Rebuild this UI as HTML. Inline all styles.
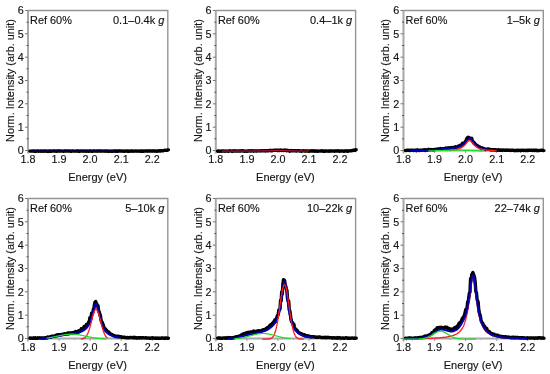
<!DOCTYPE html><html><head><meta charset="utf-8"><style>html,body{margin:0;padding:0;background:#fff;}svg{display:block;}text{font-family:"Liberation Sans", sans-serif;stroke:#1a1a1a;stroke-width:0.15px;}</style></head><body>
<svg width="550" height="374" viewBox="0 0 550 374" style="will-change:transform">
<g><path d="M28.0 10.5 H167.8 V150.5" fill="none" stroke="#959595" stroke-width="1.4"/><path d="M28.0 10.5 V150.5 H167.8" fill="none" stroke="#a8a8a8" stroke-width="2"/><path d="M28.0 150.5 V153.5" fill="none" stroke="#b8b8b8" stroke-width="2"/><line x1="25.0" y1="150.5" x2="28.0" y2="150.5" stroke="#777" stroke-width="1"/><text x="23.7" y="154.4" font-size="10.8" text-anchor="end" fill="#111">0</text><line x1="25.0" y1="127.2" x2="28.0" y2="127.2" stroke="#777" stroke-width="1"/><text x="23.7" y="131.1" font-size="10.8" text-anchor="end" fill="#111">1</text><line x1="25.0" y1="103.8" x2="28.0" y2="103.8" stroke="#777" stroke-width="1"/><text x="23.7" y="107.7" font-size="10.8" text-anchor="end" fill="#111">2</text><line x1="25.0" y1="80.5" x2="28.0" y2="80.5" stroke="#777" stroke-width="1"/><text x="23.7" y="84.4" font-size="10.8" text-anchor="end" fill="#111">3</text><line x1="25.0" y1="57.2" x2="28.0" y2="57.2" stroke="#777" stroke-width="1"/><text x="23.7" y="61.1" font-size="10.8" text-anchor="end" fill="#111">4</text><line x1="25.0" y1="33.8" x2="28.0" y2="33.8" stroke="#777" stroke-width="1"/><text x="23.7" y="37.7" font-size="10.8" text-anchor="end" fill="#111">5</text><line x1="25.0" y1="10.5" x2="28.0" y2="10.5" stroke="#777" stroke-width="1"/><text x="23.7" y="14.4" font-size="10.8" text-anchor="end" fill="#111">6</text><line x1="26.5" y1="138.8" x2="28.5" y2="138.8" stroke="#555" stroke-width="1"/><line x1="26.5" y1="115.5" x2="28.5" y2="115.5" stroke="#555" stroke-width="1"/><line x1="26.5" y1="92.2" x2="28.5" y2="92.2" stroke="#555" stroke-width="1"/><line x1="26.5" y1="68.8" x2="28.5" y2="68.8" stroke="#555" stroke-width="1"/><line x1="26.5" y1="45.5" x2="28.5" y2="45.5" stroke="#555" stroke-width="1"/><line x1="26.5" y1="22.2" x2="28.5" y2="22.2" stroke="#555" stroke-width="1"/><line x1="28.0" y1="150.5" x2="28.0" y2="153.0" stroke="#999" stroke-width="1"/><text x="28.0" y="163.4" font-size="10.8" text-anchor="middle" fill="#111">1.8</text><line x1="59.1" y1="150.5" x2="59.1" y2="153.0" stroke="#999" stroke-width="1"/><text x="59.1" y="163.4" font-size="10.8" text-anchor="middle" fill="#111">1.9</text><line x1="90.1" y1="150.5" x2="90.1" y2="153.0" stroke="#999" stroke-width="1"/><text x="90.1" y="163.4" font-size="10.8" text-anchor="middle" fill="#111">2.0</text><line x1="121.2" y1="150.5" x2="121.2" y2="153.0" stroke="#999" stroke-width="1"/><text x="121.2" y="163.4" font-size="10.8" text-anchor="middle" fill="#111">2.1</text><line x1="152.3" y1="150.5" x2="152.3" y2="153.0" stroke="#999" stroke-width="1"/><text x="152.3" y="163.4" font-size="10.8" text-anchor="middle" fill="#111">2.2</text><line x1="43.5" y1="150.5" x2="43.5" y2="152.0" stroke="#aaa" stroke-width="1"/><line x1="74.6" y1="150.5" x2="74.6" y2="152.0" stroke="#aaa" stroke-width="1"/><line x1="105.7" y1="150.5" x2="105.7" y2="152.0" stroke="#aaa" stroke-width="1"/><line x1="136.7" y1="150.5" x2="136.7" y2="152.0" stroke="#aaa" stroke-width="1"/><text x="30.1" y="23.8" font-size="10.9" fill="#111">Ref 60%</text><text x="164.4" y="23.6" font-size="11" text-anchor="end" fill="#111">0.1–0.4k <tspan font-style="italic">g</tspan></text><text x="97.6" y="181.0" font-size="11" text-anchor="middle" fill="#111">Energy (eV)</text><text x="13.8" y="80.5" font-size="10.9" text-anchor="middle" fill="#111" transform="rotate(-90 13.8 80.5)">Norm. Intensity (arb. unit)</text><polyline points="29.9,151.1 30.4,151.1 31.0,151.1 31.6,151.1 32.2,151.1 32.8,151.1 33.3,151.0 33.9,151.1 34.5,151.3 35.1,151.1 35.6,151.1 36.2,151.2 36.8,151.1 37.4,150.9 37.9,151.0 38.5,151.2 39.1,151.1 39.7,151.1 40.3,151.2 40.8,151.0 41.4,151.1 42.0,151.2 42.6,151.0 43.1,151.1 43.7,151.2 44.3,151.1 44.9,151.0 45.5,151.0 46.0,151.1 46.6,151.2 47.2,151.2 47.8,151.2 48.3,151.1 48.9,151.3 49.5,151.1 50.1,151.0 50.6,151.3 51.2,151.2 51.8,151.0 52.4,151.1 53.0,151.1 53.5,151.0 54.1,151.0 54.7,151.0 55.3,151.1 55.8,151.2 56.4,151.3 57.0,151.0 57.6,150.9 58.2,151.1 58.7,151.0 59.3,151.0 59.9,151.1 60.5,151.1 61.0,151.0 61.6,151.1 62.2,151.1 62.8,151.1 63.3,151.2 63.9,151.2 64.5,151.0 65.1,151.0 65.7,151.1 66.2,151.0 66.8,151.1 67.4,151.1 68.0,151.0 68.5,151.1 69.1,151.1 69.7,151.0 70.3,151.1 70.9,151.3 71.4,151.1 72.0,151.1 72.6,151.0 73.2,151.1 73.7,151.1 74.3,151.1 74.9,151.1 75.5,151.1 76.0,151.2 76.6,151.0 77.2,151.0 77.8,151.1 78.4,151.0 78.9,151.4 79.5,151.2 80.1,151.2 80.7,151.0 81.2,151.1 81.8,151.1 82.4,151.0 83.0,151.1 83.6,151.2 84.1,151.1 84.7,151.0 85.3,151.0 85.9,151.2 86.4,151.2 87.0,151.2 87.6,151.0 88.2,151.2 88.8,151.2 89.3,151.0 89.9,151.0 90.5,151.1 91.1,151.0 91.6,151.2 92.2,151.1 92.8,151.2 93.4,151.0 93.9,151.1 94.5,151.0 95.1,151.1 95.7,151.1 96.3,151.1 96.8,151.0 97.4,151.2 98.0,151.0 98.6,151.0 99.1,151.0 99.7,150.9 100.3,151.0 100.9,151.2 101.5,151.0 102.0,151.1 102.6,151.1 103.2,151.1 103.8,151.1 104.3,151.0 104.9,151.2 105.5,151.0 106.1,151.2 106.6,151.0 107.2,151.0 107.8,151.2 108.4,151.2 109.0,151.2 109.5,151.2 110.1,151.1 110.7,151.1 111.3,151.1 111.8,151.3 112.4,151.1 113.0,151.2 113.6,151.1 114.2,151.0 114.7,151.1 115.3,151.0 115.9,151.3 116.5,151.0 117.0,151.1 117.6,151.3 118.2,150.9 118.8,151.0 119.3,151.1 119.9,151.0 120.5,151.1 121.1,151.0 121.7,151.1 122.2,151.1 122.8,151.1 123.4,151.2 124.0,151.0 124.5,151.3 125.1,151.1 125.7,151.1 126.3,151.1 126.9,151.0 127.4,151.2 128.0,150.9 128.6,151.2 129.2,151.1 129.7,151.2 130.3,151.0 130.9,151.2 131.5,151.0 132.1,151.0 132.6,151.1 133.2,151.2 133.8,151.1 134.4,151.1 134.9,151.1 135.5,151.1 136.1,151.0 136.7,151.2 137.2,151.1 137.8,151.1 138.4,151.1 139.0,151.2 139.6,151.0 140.1,151.1 140.7,151.2 141.3,151.1 141.9,151.0 142.4,151.3 143.0,151.0 143.6,151.2 144.2,151.1 144.8,151.1 145.3,151.0 145.9,151.0 146.5,151.0 147.1,151.2 147.6,151.0 148.2,151.0 148.8,151.0 149.4,150.9 149.9,151.1 150.5,150.9 151.1,151.0 151.7,151.1 152.3,151.1 152.8,151.0 153.4,151.1 154.0,151.0 154.6,151.1 155.1,151.0 155.7,151.1 156.3,151.2 156.9,151.3 157.5,151.0 158.0,151.0 158.6,151.1 159.2,150.8 159.8,151.0 160.3,151.1 160.9,150.7 161.5,150.8 162.1,150.9 162.6,150.8 163.2,150.8 163.8,150.5 164.4,150.3 165.0,150.1 165.5,150.4 166.1,150.4 166.7,150.1 167.3,150.3 167.8,150.0 168.4,149.9" fill="none" stroke="#000" stroke-width="3.4" stroke-linecap="round" stroke-linejoin="round"/><polyline points="31.1,151.1 31.6,151.1 32.0,151.1 32.5,151.1 33.0,151.1 33.4,151.1 33.9,151.1 34.4,151.1 34.8,151.1 35.3,151.1 35.8,151.1 36.2,151.1 36.7,151.1 37.2,151.1 37.6,151.1 38.1,151.1 38.6,151.1 39.0,151.1 39.5,151.1 40.0,151.1 40.4,151.1 40.9,151.1 41.4,151.1 41.8,151.1 42.3,151.1 42.8,151.1 43.2,151.1 43.7,151.1 44.2,151.1 44.6,151.1 45.1,151.1 45.6,151.1 46.0,151.1 46.5,151.1 47.0,151.1 47.4,151.1 47.9,151.1 48.3,151.1 48.8,151.1 49.3,151.1 49.7,151.1 50.2,151.1 50.7,151.1 51.1,151.1 51.6,151.1 52.1,151.1 52.5,151.1 53.0,151.1 53.5,151.1 53.9,151.1 54.4,151.1 54.9,151.1 55.3,151.1 55.8,151.1 56.3,151.1 56.7,151.1 57.2,151.1 57.7,151.1 58.1,151.1 58.6,151.1 59.1,151.1 59.5,151.1 60.0,151.1 60.5,151.1 60.9,151.1 61.4,151.1 61.9,151.1 62.3,151.1 62.8,151.1 63.3,151.1 63.7,151.1 64.2,151.1 64.7,151.1 65.1,151.1 65.6,151.1 66.1,151.1 66.5,151.1 67.0,151.1 67.5,151.1 67.9,151.1 68.4,151.1 68.9,151.1 69.3,151.1 69.8,151.1 70.3,151.1 70.7,151.1 71.2,151.1 71.6,151.1 72.1,151.1 72.6,151.1 73.0,151.1 73.5,151.1 74.0,151.1 74.4,151.1 74.9,151.1 75.4,151.1 75.8,151.1 76.3,151.1 76.8,151.1 77.2,151.1 77.7,151.1 78.2,151.1 78.6,151.1 79.1,151.1 79.6,151.1 80.0,151.1 80.5,151.1 81.0,151.1 81.4,151.1 81.9,151.1 82.4,151.1 82.8,151.1 83.3,151.1 83.8,151.1 84.2,151.1 84.7,151.1 85.2,151.1 85.6,151.1 86.1,151.1 86.6,151.1 87.0,151.1 87.5,151.1 88.0,151.1 88.4,151.1 88.9,151.1 89.4,151.1 89.8,151.1 90.3,151.1 90.8,151.1 91.2,151.1 91.7,151.1 92.2,151.1 92.6,151.1 93.1,151.1 93.6,151.1 94.0,151.1 94.5,151.1 94.9,151.1 95.4,151.1 95.9,151.1 96.3,151.1 96.8,151.1 97.3,151.1 97.7,151.1 98.2,151.1 98.7,151.1 99.1,151.1 99.6,151.1 100.1,151.1 100.5,151.1 101.0,151.1 101.5,151.1 101.9,151.1 102.4,151.1 102.9,151.1 103.3,151.1 103.8,151.1 104.3,151.1 104.7,151.1 105.2,151.1 105.7,151.1 106.1,151.1 106.6,151.1 107.1,151.1 107.5,151.1 108.0,151.1 108.5,151.1 108.9,151.1 109.4,151.1 109.9,151.1 110.3,151.1 110.8,151.1 111.3,151.1 111.7,151.1 112.2,151.1 112.7,151.1 113.1,151.1 113.6,151.1 114.1,151.1 114.5,151.1 115.0,151.1" fill="none" stroke="#000090" stroke-width="1.0" stroke-linejoin="round"/></g>
<g><path d="M215.8 10.5 H355.6 V150.5" fill="none" stroke="#959595" stroke-width="1.4"/><path d="M215.8 10.5 V150.5 H355.6" fill="none" stroke="#a8a8a8" stroke-width="2"/><path d="M215.8 150.5 V153.5" fill="none" stroke="#b8b8b8" stroke-width="2"/><line x1="212.8" y1="150.5" x2="215.8" y2="150.5" stroke="#777" stroke-width="1"/><text x="211.5" y="154.4" font-size="10.8" text-anchor="end" fill="#111">0</text><line x1="212.8" y1="127.2" x2="215.8" y2="127.2" stroke="#777" stroke-width="1"/><text x="211.5" y="131.1" font-size="10.8" text-anchor="end" fill="#111">1</text><line x1="212.8" y1="103.8" x2="215.8" y2="103.8" stroke="#777" stroke-width="1"/><text x="211.5" y="107.7" font-size="10.8" text-anchor="end" fill="#111">2</text><line x1="212.8" y1="80.5" x2="215.8" y2="80.5" stroke="#777" stroke-width="1"/><text x="211.5" y="84.4" font-size="10.8" text-anchor="end" fill="#111">3</text><line x1="212.8" y1="57.2" x2="215.8" y2="57.2" stroke="#777" stroke-width="1"/><text x="211.5" y="61.1" font-size="10.8" text-anchor="end" fill="#111">4</text><line x1="212.8" y1="33.8" x2="215.8" y2="33.8" stroke="#777" stroke-width="1"/><text x="211.5" y="37.7" font-size="10.8" text-anchor="end" fill="#111">5</text><line x1="212.8" y1="10.5" x2="215.8" y2="10.5" stroke="#777" stroke-width="1"/><text x="211.5" y="14.4" font-size="10.8" text-anchor="end" fill="#111">6</text><line x1="214.3" y1="138.8" x2="216.3" y2="138.8" stroke="#555" stroke-width="1"/><line x1="214.3" y1="115.5" x2="216.3" y2="115.5" stroke="#555" stroke-width="1"/><line x1="214.3" y1="92.2" x2="216.3" y2="92.2" stroke="#555" stroke-width="1"/><line x1="214.3" y1="68.8" x2="216.3" y2="68.8" stroke="#555" stroke-width="1"/><line x1="214.3" y1="45.5" x2="216.3" y2="45.5" stroke="#555" stroke-width="1"/><line x1="214.3" y1="22.2" x2="216.3" y2="22.2" stroke="#555" stroke-width="1"/><line x1="215.8" y1="150.5" x2="215.8" y2="153.0" stroke="#999" stroke-width="1"/><text x="215.8" y="163.4" font-size="10.8" text-anchor="middle" fill="#111">1.8</text><line x1="246.9" y1="150.5" x2="246.9" y2="153.0" stroke="#999" stroke-width="1"/><text x="246.9" y="163.4" font-size="10.8" text-anchor="middle" fill="#111">1.9</text><line x1="277.9" y1="150.5" x2="277.9" y2="153.0" stroke="#999" stroke-width="1"/><text x="277.9" y="163.4" font-size="10.8" text-anchor="middle" fill="#111">2.0</text><line x1="309.0" y1="150.5" x2="309.0" y2="153.0" stroke="#999" stroke-width="1"/><text x="309.0" y="163.4" font-size="10.8" text-anchor="middle" fill="#111">2.1</text><line x1="340.1" y1="150.5" x2="340.1" y2="153.0" stroke="#999" stroke-width="1"/><text x="340.1" y="163.4" font-size="10.8" text-anchor="middle" fill="#111">2.2</text><line x1="231.3" y1="150.5" x2="231.3" y2="152.0" stroke="#aaa" stroke-width="1"/><line x1="262.4" y1="150.5" x2="262.4" y2="152.0" stroke="#aaa" stroke-width="1"/><line x1="293.5" y1="150.5" x2="293.5" y2="152.0" stroke="#aaa" stroke-width="1"/><line x1="324.5" y1="150.5" x2="324.5" y2="152.0" stroke="#aaa" stroke-width="1"/><text x="217.9" y="23.8" font-size="10.9" fill="#111">Ref 60%</text><text x="352.2" y="23.6" font-size="11" text-anchor="end" fill="#111">0.4–1k <tspan font-style="italic">g</tspan></text><text x="285.4" y="181.0" font-size="11" text-anchor="middle" fill="#111">Energy (eV)</text><text x="201.6" y="80.5" font-size="10.9" text-anchor="middle" fill="#111" transform="rotate(-90 201.6 80.5)">Norm. Intensity (arb. unit)</text><polyline points="217.7,151.2 218.2,151.0 218.8,151.1 219.4,151.4 220.0,151.1 220.6,151.1 221.1,151.2 221.7,151.1 222.3,151.0 222.9,151.2 223.4,151.1 224.0,151.0 224.6,151.2 225.2,151.2 225.7,151.1 226.3,151.1 226.9,151.1 227.5,151.1 228.1,151.1 228.6,151.3 229.2,151.0 229.8,150.8 230.4,150.9 230.9,151.0 231.5,151.1 232.1,151.2 232.7,151.2 233.3,150.8 233.8,151.1 234.4,151.1 235.0,151.0 235.6,151.0 236.1,150.9 236.7,151.1 237.3,151.1 237.9,151.1 238.4,151.1 239.0,151.0 239.6,151.1 240.2,151.0 240.8,151.0 241.3,150.9 241.9,150.8 242.5,151.0 243.1,151.0 243.6,150.8 244.2,151.2 244.8,151.2 245.4,151.1 246.0,151.1 246.5,151.2 247.1,151.2 247.7,151.0 248.3,151.0 248.8,151.0 249.4,150.8 250.0,151.0 250.6,151.1 251.1,151.0 251.7,150.9 252.3,150.7 252.9,151.0 253.5,151.2 254.0,151.0 254.6,150.9 255.2,150.9 255.8,150.9 256.3,151.1 256.9,151.1 257.5,150.9 258.1,150.9 258.7,150.9 259.2,150.9 259.8,150.9 260.4,151.0 261.0,150.8 261.5,150.8 262.1,150.9 262.7,150.9 263.3,150.8 263.8,150.9 264.4,150.8 265.0,150.6 265.6,151.0 266.2,150.8 266.7,150.7 267.3,150.8 267.9,150.8 268.5,150.9 269.0,150.6 269.6,150.5 270.2,150.3 270.8,150.7 271.4,150.4 271.9,150.7 272.5,150.4 273.1,150.5 273.7,150.3 274.2,150.4 274.8,150.2 275.4,150.3 276.0,150.4 276.6,150.1 277.1,150.2 277.7,150.1 278.3,150.2 278.9,150.1 279.4,150.5 280.0,150.1 280.6,150.0 281.2,150.3 281.7,150.5 282.3,150.3 282.9,150.4 283.5,150.5 284.1,150.1 284.6,150.0 285.2,150.4 285.8,150.3 286.4,150.8 286.9,150.5 287.5,150.2 288.1,150.6 288.7,150.6 289.3,150.9 289.8,151.2 290.4,150.8 291.0,150.5 291.6,150.8 292.1,150.9 292.7,150.7 293.3,150.8 293.9,150.7 294.4,150.9 295.0,150.9 295.6,150.7 296.2,151.0 296.8,150.9 297.3,150.7 297.9,150.8 298.5,150.9 299.1,150.8 299.6,151.0 300.2,150.9 300.8,151.0 301.4,151.2 302.0,150.9 302.5,151.0 303.1,150.8 303.7,150.9 304.3,151.0 304.8,151.1 305.4,151.0 306.0,150.9 306.6,151.1 307.1,150.9 307.7,151.0 308.3,151.0 308.9,151.2 309.5,151.2 310.0,151.1 310.6,150.9 311.2,151.1 311.8,150.9 312.3,151.0 312.9,151.0 313.5,150.8 314.1,151.3 314.7,151.0 315.2,151.0 315.8,151.2 316.4,150.9 317.0,151.2 317.5,151.3 318.1,151.1 318.7,151.1 319.3,151.1 319.9,151.1 320.4,151.0 321.0,150.9 321.6,151.1 322.2,150.8 322.7,151.1 323.3,151.2 323.9,151.1 324.5,151.0 325.0,151.3 325.6,151.0 326.2,151.0 326.8,151.1 327.4,151.1 327.9,151.2 328.5,150.9 329.1,151.1 329.7,151.2 330.2,151.0 330.8,151.0 331.4,150.9 332.0,151.1 332.6,151.1 333.1,151.1 333.7,151.0 334.3,151.2 334.9,151.1 335.4,151.0 336.0,151.1 336.6,150.9 337.2,151.0 337.7,150.8 338.3,151.0 338.9,151.0 339.5,151.3 340.1,151.0 340.6,151.1 341.2,151.1 341.8,151.0 342.4,151.0 342.9,151.1 343.5,151.1 344.1,151.3 344.7,151.0 345.3,151.0 345.8,151.0 346.4,151.1 347.0,150.9 347.6,151.3 348.1,150.9 348.7,151.0 349.3,150.9 349.9,150.9 350.4,150.8 351.0,150.8 351.6,150.7 352.2,150.4 352.8,150.5 353.3,150.2 353.9,150.3 354.5,150.0 355.1,150.4 355.6,149.8 356.2,149.8" fill="none" stroke="#000" stroke-width="3.4" stroke-linecap="round" stroke-linejoin="round"/><polyline points="218.9,151.1 219.4,151.1 219.8,151.1 220.3,151.1 220.8,151.1 221.2,151.1 221.7,151.1 222.2,151.1 222.6,151.1 223.1,151.1 223.6,151.1 224.0,151.1 224.5,151.1 225.0,151.1 225.4,151.1 225.9,151.1 226.4,151.1 226.8,151.1 227.3,151.1 227.8,151.1 228.2,151.1 228.7,151.1 229.2,151.1 229.6,151.1 230.1,151.1 230.6,151.1 231.0,151.1 231.5,151.1 232.0,151.1 232.4,151.1 232.9,151.1 233.4,151.1 233.8,151.1 234.3,151.1 234.8,151.1 235.2,151.1 235.7,151.1 236.1,151.1 236.6,151.1 237.1,151.1 237.5,151.1 238.0,151.1 238.5,151.1 238.9,151.1 239.4,151.1 239.9,151.1 240.3,151.1 240.8,151.1 241.3,151.1 241.7,151.1 242.2,151.1 242.7,151.1 243.1,151.1 243.6,151.1 244.1,151.1 244.5,151.1 245.0,151.1 245.5,151.0 245.9,151.0 246.4,151.0 246.9,151.0 247.3,151.0 247.8,151.0 248.3,151.0 248.7,151.0 249.2,151.0 249.7,151.0 250.1,151.0 250.6,151.0 251.1,151.0 251.5,151.0 252.0,151.0 252.5,151.0 252.9,151.0 253.4,151.0 253.9,151.0 254.3,151.0 254.8,151.0 255.3,151.0 255.7,151.0 256.2,151.0 256.7,151.0 257.1,151.0 257.6,151.0 258.1,151.0 258.5,151.0 259.0,151.0 259.4,151.0 259.9,151.0 260.4,151.0 260.8,151.0 261.3,150.9 261.8,150.9 262.2,150.9 262.7,150.9 263.2,150.9 263.6,150.9 264.1,150.9 264.6,150.9 265.0,150.9 265.5,150.9 266.0,150.9 266.4,150.8 266.9,150.8 267.4,150.8 267.8,150.8 268.3,150.8 268.8,150.8 269.2,150.8 269.7,150.7 270.2,150.7 270.6,150.7 271.1,150.7 271.6,150.7 272.0,150.6 272.5,150.6 273.0,150.6 273.4,150.6 273.9,150.6 274.4,150.5 274.8,150.5 275.3,150.5 275.8,150.5 276.2,150.5 276.7,150.4 277.2,150.4 277.6,150.4 278.1,150.4 278.6,150.4 279.0,150.4 279.5,150.4 280.0,150.4 280.4,150.4 280.9,150.4 281.4,150.4 281.8,150.5 282.3,150.5 282.7,150.5 283.2,150.5 283.7,150.5 284.1,150.6 284.6,150.6 285.1,150.6 285.5,150.6 286.0,150.7 286.5,150.7 286.9,150.7 287.4,150.7 287.9,150.7 288.3,150.8 288.8,150.8 289.3,150.8 289.7,150.8 290.2,150.8 290.7,150.8 291.1,150.8 291.6,150.9 292.1,150.9 292.5,150.9 293.0,150.9 293.5,150.9 293.9,150.9 294.4,150.9 294.9,150.9 295.3,150.9 295.8,150.9 296.3,150.9 296.7,151.0 297.2,151.0 297.7,151.0 298.1,151.0 298.6,151.0 299.1,151.0 299.5,151.0 300.0,151.0 300.5,151.0 300.9,151.0 301.4,151.0 301.9,151.0 302.3,151.0 302.8,151.0" fill="none" stroke="#000090" stroke-width="1.0" stroke-linejoin="round"/><polyline points="222.0,151.1 222.5,151.1 223.0,151.1 223.5,151.1 223.9,151.1 224.4,151.1 224.9,151.1 225.4,151.1 225.9,151.1 226.4,151.1 226.8,151.1 227.3,151.1 227.8,151.1 228.3,151.1 228.8,151.1 229.3,151.1 229.7,151.1 230.2,151.1 230.7,151.1 231.2,151.1 231.7,151.1 232.2,151.1 232.6,151.1 233.1,151.1 233.6,151.1 234.1,151.1 234.6,151.1 235.1,151.1 235.5,151.1 236.0,151.1 236.5,151.1 237.0,151.1 237.5,151.1 238.0,151.1 238.4,151.1 238.9,151.1 239.4,151.1 239.9,151.1 240.4,151.1 240.9,151.1 241.3,151.1 241.8,151.1 242.3,151.1 242.8,151.1 243.3,151.1 243.8,151.1 244.2,151.1 244.7,151.1 245.2,151.1 245.7,151.0 246.2,151.0 246.7,151.0 247.1,151.0 247.6,151.0 248.1,151.0 248.6,151.0 249.1,151.0 249.6,151.0 250.0,151.0 250.5,151.0 251.0,151.0 251.5,151.0 252.0,151.0 252.5,151.0 252.9,151.0 253.4,151.0 253.9,151.0 254.4,151.0 254.9,151.0 255.4,151.0 255.8,151.0 256.3,151.0 256.8,151.0 257.3,151.0 257.8,151.0 258.3,151.0 258.7,151.0 259.2,151.0 259.7,151.0 260.2,151.0 260.7,151.0 261.2,150.9 261.6,150.9 262.1,150.9 262.6,150.9 263.1,150.9 263.6,150.9 264.1,150.9 264.5,150.9 265.0,150.9 265.5,150.9 266.0,150.9 266.5,150.8 267.0,150.8 267.4,150.8 267.9,150.8 268.4,150.8 268.9,150.8 269.4,150.8 269.9,150.7 270.3,150.7 270.8,150.7 271.3,150.7 271.8,150.7 272.3,150.6 272.8,150.6 273.2,150.6 273.7,150.6 274.2,150.5 274.7,150.5 275.2,150.5 275.7,150.5 276.1,150.5 276.6,150.4 277.1,150.4 277.6,150.4 278.1,150.4 278.6,150.4 279.0,150.4 279.5,150.4 280.0,150.4 280.5,150.4 281.0,150.4 281.5,150.5 281.9,150.5 282.4,150.5 282.9,150.5 283.4,150.5 283.9,150.6 284.4,150.6 284.8,150.6 285.3,150.6 285.8,150.6 286.3,150.7 286.8,150.7 287.3,150.7 287.7,150.7 288.2,150.8 288.7,150.8 289.2,150.8 289.7,150.8 290.2,150.8 290.6,150.8 291.1,150.8 291.6,150.9 292.1,150.9 292.6,150.9 293.1,150.9 293.5,150.9 294.0,150.9 294.5,150.9 295.0,150.9 295.5,150.9 296.0,150.9 296.4,150.9 296.9,151.0 297.4,151.0 297.9,151.0 298.4,151.0 298.9,151.0 299.3,151.0 299.8,151.0 300.3,151.0 300.8,151.0 301.3,151.0 301.8,151.0 302.2,151.0 302.7,151.0 303.2,151.0 303.7,151.0 304.2,151.0 304.7,151.0 305.1,151.0 305.6,151.0 306.1,151.0 306.6,151.0 307.1,151.0 307.6,151.0 308.0,151.0 308.5,151.0 309.0,151.0" fill="none" stroke="#ff1a1a" stroke-width="1.0" stroke-linejoin="round"/></g>
<g><path d="M403.5 10.5 H543.3 V150.5" fill="none" stroke="#959595" stroke-width="1.4"/><path d="M403.5 10.5 V150.5 H543.3" fill="none" stroke="#a8a8a8" stroke-width="2"/><path d="M403.5 150.5 V153.5" fill="none" stroke="#b8b8b8" stroke-width="2"/><line x1="400.5" y1="150.5" x2="403.5" y2="150.5" stroke="#777" stroke-width="1"/><text x="399.2" y="154.4" font-size="10.8" text-anchor="end" fill="#111">0</text><line x1="400.5" y1="127.2" x2="403.5" y2="127.2" stroke="#777" stroke-width="1"/><text x="399.2" y="131.1" font-size="10.8" text-anchor="end" fill="#111">1</text><line x1="400.5" y1="103.8" x2="403.5" y2="103.8" stroke="#777" stroke-width="1"/><text x="399.2" y="107.7" font-size="10.8" text-anchor="end" fill="#111">2</text><line x1="400.5" y1="80.5" x2="403.5" y2="80.5" stroke="#777" stroke-width="1"/><text x="399.2" y="84.4" font-size="10.8" text-anchor="end" fill="#111">3</text><line x1="400.5" y1="57.2" x2="403.5" y2="57.2" stroke="#777" stroke-width="1"/><text x="399.2" y="61.1" font-size="10.8" text-anchor="end" fill="#111">4</text><line x1="400.5" y1="33.8" x2="403.5" y2="33.8" stroke="#777" stroke-width="1"/><text x="399.2" y="37.7" font-size="10.8" text-anchor="end" fill="#111">5</text><line x1="400.5" y1="10.5" x2="403.5" y2="10.5" stroke="#777" stroke-width="1"/><text x="399.2" y="14.4" font-size="10.8" text-anchor="end" fill="#111">6</text><line x1="402.0" y1="138.8" x2="404.0" y2="138.8" stroke="#555" stroke-width="1"/><line x1="402.0" y1="115.5" x2="404.0" y2="115.5" stroke="#555" stroke-width="1"/><line x1="402.0" y1="92.2" x2="404.0" y2="92.2" stroke="#555" stroke-width="1"/><line x1="402.0" y1="68.8" x2="404.0" y2="68.8" stroke="#555" stroke-width="1"/><line x1="402.0" y1="45.5" x2="404.0" y2="45.5" stroke="#555" stroke-width="1"/><line x1="402.0" y1="22.2" x2="404.0" y2="22.2" stroke="#555" stroke-width="1"/><line x1="403.5" y1="150.5" x2="403.5" y2="153.0" stroke="#999" stroke-width="1"/><text x="403.5" y="163.4" font-size="10.8" text-anchor="middle" fill="#111">1.8</text><line x1="434.6" y1="150.5" x2="434.6" y2="153.0" stroke="#999" stroke-width="1"/><text x="434.6" y="163.4" font-size="10.8" text-anchor="middle" fill="#111">1.9</text><line x1="465.6" y1="150.5" x2="465.6" y2="153.0" stroke="#999" stroke-width="1"/><text x="465.6" y="163.4" font-size="10.8" text-anchor="middle" fill="#111">2.0</text><line x1="496.7" y1="150.5" x2="496.7" y2="153.0" stroke="#999" stroke-width="1"/><text x="496.7" y="163.4" font-size="10.8" text-anchor="middle" fill="#111">2.1</text><line x1="527.8" y1="150.5" x2="527.8" y2="153.0" stroke="#999" stroke-width="1"/><text x="527.8" y="163.4" font-size="10.8" text-anchor="middle" fill="#111">2.2</text><line x1="419.0" y1="150.5" x2="419.0" y2="152.0" stroke="#aaa" stroke-width="1"/><line x1="450.1" y1="150.5" x2="450.1" y2="152.0" stroke="#aaa" stroke-width="1"/><line x1="481.2" y1="150.5" x2="481.2" y2="152.0" stroke="#aaa" stroke-width="1"/><line x1="512.2" y1="150.5" x2="512.2" y2="152.0" stroke="#aaa" stroke-width="1"/><text x="405.6" y="23.8" font-size="10.9" fill="#111">Ref 60%</text><text x="539.9" y="23.6" font-size="11" text-anchor="end" fill="#111">1–5k <tspan font-style="italic">g</tspan></text><text x="473.1" y="181.0" font-size="11" text-anchor="middle" fill="#111">Energy (eV)</text><text x="389.3" y="80.5" font-size="10.9" text-anchor="middle" fill="#111" transform="rotate(-90 389.3 80.5)">Norm. Intensity (arb. unit)</text><polyline points="405.4,150.5 405.9,150.5 406.5,150.5 407.1,150.3 407.7,150.3 408.3,150.3 408.8,150.3 409.4,150.4 410.0,150.6 410.6,150.3 411.1,150.4 411.7,150.2 412.3,150.2 412.9,150.3 413.4,150.4 414.0,150.6 414.6,150.3 415.2,150.3 415.8,150.3 416.3,150.7 416.9,150.6 417.5,149.8 418.1,150.2 418.6,150.3 419.2,150.6 419.8,150.1 420.4,150.3 421.0,150.2 421.5,150.2 422.1,150.2 422.7,150.0 423.3,150.1 423.8,150.0 424.4,149.7 425.0,150.4 425.6,149.7 426.1,149.8 426.7,150.1 427.3,150.0 427.9,150.1 428.5,149.4 429.0,149.9 429.6,149.9 430.2,149.7 430.8,149.5 431.3,149.6 431.9,149.7 432.5,149.7 433.1,150.0 433.7,149.7 434.2,149.4 434.8,149.4 435.4,149.5 436.0,149.4 436.5,149.1 437.1,149.2 437.7,149.1 438.3,149.0 438.8,148.8 439.4,149.1 440.0,149.1 440.6,148.5 441.2,148.7 441.7,148.6 442.3,149.0 442.9,148.6 443.5,148.6 444.0,148.7 444.6,148.7 445.2,148.6 445.8,147.9 446.4,148.2 446.9,148.2 447.5,148.0 448.1,148.1 448.7,148.1 449.2,147.7 449.8,148.0 450.4,148.0 451.0,147.7 451.5,147.5 452.1,148.0 452.7,147.5 453.3,147.8 453.9,147.7 454.4,147.2 455.0,147.1 455.6,146.8 456.2,147.4 456.7,147.0 457.3,146.8 457.9,146.7 458.5,145.9 459.1,145.9 459.6,145.8 460.2,145.3 460.8,145.8 461.4,145.1 461.9,144.4 462.5,143.3 463.1,144.1 463.7,144.1 464.3,142.9 464.8,142.6 465.4,141.4 466.0,140.8 466.6,139.1 467.1,138.1 467.7,138.4 468.3,137.3 468.9,137.7 469.4,137.7 470.0,138.3 470.6,138.7 471.2,139.0 471.8,138.4 472.3,141.2 472.9,141.4 473.5,142.9 474.1,142.5 474.6,143.2 475.2,144.6 475.8,144.4 476.4,145.0 477.0,145.5 477.5,146.1 478.1,146.0 478.7,146.8 479.3,146.6 479.8,147.0 480.4,147.8 481.0,148.1 481.6,148.1 482.1,147.9 482.7,148.0 483.3,148.5 483.9,148.7 484.5,148.9 485.0,148.9 485.6,149.6 486.2,149.1 486.8,149.1 487.3,149.1 487.9,149.0 488.5,148.9 489.1,149.3 489.7,149.7 490.2,149.4 490.8,149.5 491.4,150.0 492.0,149.8 492.5,149.6 493.1,149.9 493.7,149.9 494.3,149.7 494.8,150.0 495.4,149.6 496.0,149.8 496.6,150.0 497.2,150.3 497.7,149.9 498.3,149.8 498.9,150.3 499.5,149.9 500.0,150.3 500.6,150.0 501.2,150.2 501.8,150.0 502.4,150.5 502.9,150.1 503.5,150.0 504.1,150.2 504.7,150.1 505.2,150.3 505.8,150.0 506.4,150.1 507.0,150.3 507.6,150.4 508.1,150.0 508.7,150.2 509.3,150.2 509.9,150.1 510.4,150.5 511.0,150.4 511.6,150.1 512.2,150.2 512.7,150.4 513.3,150.4 513.9,150.3 514.5,150.7 515.1,150.6 515.6,150.5 516.2,150.5 516.8,150.1 517.4,150.3 517.9,150.6 518.5,150.4 519.1,150.3 519.7,150.5 520.3,150.7 520.8,150.2 521.4,150.5 522.0,150.3 522.6,150.3 523.1,150.1 523.7,150.5 524.3,150.3 524.9,150.5 525.4,150.4 526.0,150.6 526.6,150.2 527.2,150.2 527.8,150.2 528.3,150.1 528.9,150.4 529.5,150.3 530.1,150.4 530.6,150.3 531.2,150.3 531.8,150.2 532.4,150.5 533.0,150.1 533.5,150.4 534.1,150.2 534.7,150.6 535.3,150.4 535.8,150.0 536.4,150.3 537.0,150.7 537.6,150.4 538.1,150.5 538.7,150.6 539.3,150.5 539.9,150.4 540.5,150.4 541.0,150.4 541.6,150.3 542.2,150.3 542.8,150.3 543.3,150.6 543.9,150.6" fill="none" stroke="#000" stroke-width="3.4" stroke-linecap="round" stroke-linejoin="round"/><polyline points="409.7,150.8 410.2,150.8 410.7,150.8 411.2,150.8 411.6,150.8 412.1,150.8 412.6,150.8 413.1,150.8 413.6,150.8 414.1,150.8 414.5,150.8 415.0,150.8 415.5,150.8 416.0,150.8 416.5,150.7 417.0,150.7 417.4,150.7 417.9,150.7 418.4,150.7 418.9,150.7 419.4,150.7 419.9,150.7 420.3,150.6 420.8,150.6 421.3,150.6 421.8,150.6 422.3,150.6 422.8,150.6 423.2,150.5 423.7,150.5 424.2,150.5 424.7,150.5 425.2,150.5 425.7,150.4 426.1,150.4 426.6,150.4 427.1,150.4 427.6,150.3 428.1,150.3 428.6,150.3 429.0,150.3 429.5,150.2 430.0,150.2 430.5,150.2 431.0,150.1 431.5,150.1 431.9,150.1 432.4,150.0 432.9,150.0 433.4,150.0 433.9,149.9 434.4,149.9 434.8,149.9 435.3,149.8 435.8,149.8 436.3,149.7 436.8,149.7 437.3,149.7 437.7,149.6 438.2,149.6 438.7,149.5 439.2,149.5 439.7,149.4 440.2,149.4 440.6,149.4 441.1,149.3 441.6,149.3 442.1,149.2 442.6,149.2 443.1,149.1 443.5,149.1 444.0,149.0 444.5,149.0 445.0,148.9 445.5,148.9 446.0,148.9 446.4,148.8 446.9,148.8 447.4,148.7 447.9,148.7 448.4,148.6 448.9,148.6 449.3,148.5 449.8,148.5 450.3,148.4 450.8,148.4 451.3,148.3 451.8,148.2 452.2,148.2 452.7,148.1 453.2,148.1 453.7,148.0 454.2,147.9 454.7,147.8 455.1,147.7 455.6,147.7 456.1,147.6 456.6,147.5 457.1,147.3 457.6,147.2 458.0,147.1 458.5,146.9 459.0,146.8 459.5,146.6 460.0,146.4 460.5,146.2 460.9,145.9 461.4,145.7 461.9,145.4 462.4,145.1 462.9,144.7 463.4,144.3 463.8,143.9 464.3,143.4 464.8,142.9 465.3,142.4 465.8,141.8 466.3,141.3 466.7,140.7 467.2,140.2 467.7,139.7 468.2,139.3 468.7,139.0 469.2,138.9 469.6,138.9 470.1,139.0 470.6,139.3 471.1,139.7 471.6,140.2 472.1,140.7 472.5,141.4 473.0,142.0 473.5,142.6 474.0,143.2 474.5,143.8 475.0,144.3 475.4,144.8 475.9,145.3 476.4,145.7 476.9,146.1 477.4,146.5 477.9,146.8 478.3,147.1 478.8,147.3 479.3,147.6 479.8,147.8 480.3,148.0 480.8,148.2 481.2,148.4 481.7,148.6 482.2,148.7 482.7,148.8 483.2,149.0 483.7,149.1 484.1,149.2 484.6,149.3 485.1,149.4 485.6,149.5 486.1,149.5 486.6,149.6 487.0,149.7 487.5,149.8 488.0,149.8 488.5,149.9 489.0,149.9 489.5,150.0 489.9,150.0 490.4,150.1 490.9,150.1 491.4,150.1 491.9,150.2 492.4,150.2 492.8,150.2 493.3,150.3 493.8,150.3 494.3,150.3 494.8,150.4 495.3,150.4 495.7,150.4 496.2,150.4 496.7,150.4" fill="none" stroke="#0000b4" stroke-width="2.0" stroke-linejoin="round"/><polyline points="447.0,150.5 447.3,150.5 447.5,150.5 447.8,150.4 448.1,150.4 448.4,150.4 448.7,150.4 448.9,150.4 449.2,150.4 449.5,150.3 449.8,150.3 450.0,150.3 450.3,150.3 450.6,150.3 450.9,150.2 451.1,150.2 451.4,150.2 451.7,150.2 452.0,150.1 452.2,150.1 452.5,150.1 452.8,150.0 453.1,150.0 453.3,150.0 453.6,149.9 453.9,149.9 454.2,149.9 454.4,149.8 454.7,149.8 455.0,149.7 455.3,149.7 455.6,149.6 455.8,149.6 456.1,149.5 456.4,149.5 456.7,149.4 456.9,149.4 457.2,149.3 457.5,149.2 457.8,149.2 458.0,149.1 458.3,149.0 458.6,148.9 458.9,148.8 459.1,148.7 459.4,148.6 459.7,148.5 460.0,148.4 460.2,148.3 460.5,148.2 460.8,148.0 461.1,147.9 461.4,147.7 461.6,147.6 461.9,147.4 462.2,147.2 462.5,147.1 462.7,146.9 463.0,146.6 463.3,146.4 463.6,146.2 463.8,145.9 464.1,145.7 464.4,145.4 464.7,145.1 464.9,144.8 465.2,144.5 465.5,144.2 465.8,143.9 466.0,143.5 466.3,143.2 466.6,142.8 466.9,142.5 467.2,142.2 467.4,141.9 467.7,141.6 468.0,141.3 468.3,141.1 468.5,140.9 468.8,140.8 469.1,140.7 469.4,140.6 469.6,140.6 469.9,140.7 470.2,140.7 470.5,140.9 470.7,141.1 471.0,141.3 471.3,141.6 471.6,141.8 471.8,142.2 472.1,142.5 472.4,142.8 472.7,143.1 473.0,143.5 473.2,143.8 473.5,144.1 473.8,144.5 474.1,144.8 474.3,145.1 474.6,145.4 474.9,145.6 475.2,145.9 475.4,146.1 475.7,146.4 476.0,146.6 476.3,146.8 476.5,147.0 476.8,147.2 477.1,147.4 477.4,147.6 477.6,147.7 477.9,147.9 478.2,148.0 478.5,148.2 478.8,148.3 479.0,148.4 479.3,148.5 479.6,148.6 479.9,148.7 480.1,148.8 480.4,148.9 480.7,149.0 481.0,149.1 481.2,149.2 481.5,149.2 481.8,149.3 482.1,149.4 482.3,149.4 482.6,149.5 482.9,149.5 483.2,149.6 483.4,149.6 483.7,149.7 484.0,149.7 484.3,149.8 484.5,149.8 484.8,149.9 485.1,149.9 485.4,149.9 485.7,150.0 485.9,150.0 486.2,150.0 486.5,150.1 486.8,150.1 487.0,150.1 487.3,150.2 487.6,150.2 487.9,150.2 488.1,150.2 488.4,150.3 488.7,150.3 489.0,150.3 489.2,150.3 489.5,150.3 489.8,150.4 490.1,150.4 490.3,150.4 490.6,150.4 490.9,150.4 491.2,150.4 491.5,150.5 491.7,150.5 492.0,150.5 492.3,150.5 492.6,150.5 492.8,150.5 493.1,150.5 493.4,150.6 493.7,150.6 493.9,150.6 494.2,150.6 494.5,150.6 494.8,150.6 495.0,150.6 495.3,150.6 495.6,150.6 495.9,150.6 496.1,150.7 496.4,150.7 496.7,150.7" fill="none" stroke="#ff1a1a" stroke-width="1.3" stroke-linejoin="round"/><polyline points="428.4,150.9 428.7,150.9 429.0,150.9 429.3,150.9 429.6,150.9 429.9,150.9 430.2,150.9 430.5,150.9 430.8,150.9 431.1,150.8 431.5,150.8 431.8,150.8 432.1,150.8 432.4,150.8 432.7,150.8 433.0,150.8 433.3,150.8 433.6,150.8 433.9,150.8 434.3,150.8 434.6,150.7 434.9,150.7 435.2,150.7 435.5,150.7 435.8,150.7 436.1,150.7 436.4,150.7 436.7,150.7 437.1,150.7 437.4,150.7 437.7,150.6 438.0,150.6 438.3,150.6 438.6,150.6 438.9,150.6 439.2,150.6 439.5,150.6 439.8,150.6 440.2,150.6 440.5,150.5 440.8,150.5 441.1,150.5 441.4,150.5 441.7,150.5 442.0,150.5 442.3,150.5 442.6,150.5 443.0,150.5 443.3,150.4 443.6,150.4 443.9,150.4 444.2,150.4 444.5,150.4 444.8,150.4 445.1,150.4 445.4,150.4 445.8,150.4 446.1,150.3 446.4,150.3 446.7,150.3 447.0,150.3 447.3,150.3 447.6,150.3 447.9,150.3 448.2,150.3 448.5,150.3 448.9,150.3 449.2,150.3 449.5,150.3 449.8,150.2 450.1,150.2 450.4,150.2 450.7,150.2 451.0,150.2 451.3,150.2 451.7,150.2 452.0,150.2 452.3,150.2 452.6,150.2 452.9,150.2 453.2,150.2 453.5,150.2 453.8,150.2 454.1,150.2 454.4,150.2 454.8,150.2 455.1,150.2 455.4,150.2 455.7,150.2 456.0,150.2 456.3,150.2 456.6,150.2 456.9,150.2 457.2,150.2 457.6,150.2 457.9,150.2 458.2,150.2 458.5,150.2 458.8,150.2 459.1,150.2 459.4,150.2 459.7,150.2 460.0,150.2 460.4,150.2 460.7,150.2 461.0,150.2 461.3,150.2 461.6,150.2 461.9,150.2 462.2,150.2 462.5,150.2 462.8,150.2 463.1,150.3 463.5,150.3 463.8,150.3 464.1,150.3 464.4,150.3 464.7,150.3 465.0,150.3 465.3,150.3 465.6,150.3 465.9,150.3 466.3,150.3 466.6,150.3 466.9,150.4 467.2,150.4 467.5,150.4 467.8,150.4 468.1,150.4 468.4,150.4 468.7,150.4 469.1,150.4 469.4,150.4 469.7,150.5 470.0,150.5 470.3,150.5 470.6,150.5 470.9,150.5 471.2,150.5 471.5,150.5 471.8,150.5 472.2,150.5 472.5,150.6 472.8,150.6 473.1,150.6 473.4,150.6 473.7,150.6 474.0,150.6 474.3,150.6 474.6,150.6 475.0,150.6 475.3,150.7 475.6,150.7 475.9,150.7 476.2,150.7 476.5,150.7 476.8,150.7 477.1,150.7 477.4,150.7 477.7,150.7 478.1,150.7 478.4,150.8 478.7,150.8 479.0,150.8 479.3,150.8 479.6,150.8 479.9,150.8 480.2,150.8 480.5,150.8 480.9,150.8 481.2,150.8 481.5,150.8 481.8,150.9 482.1,150.9 482.4,150.9 482.7,150.9 483.0,150.9 483.3,150.9 483.7,150.9 484.0,150.9 484.3,150.9" fill="none" stroke="#22dd22" stroke-width="1.2" stroke-linejoin="round"/></g>
<g><path d="M28.0 198.5 H167.8 V338.5" fill="none" stroke="#959595" stroke-width="1.4"/><path d="M28.0 198.5 V338.5 H167.8" fill="none" stroke="#a8a8a8" stroke-width="2"/><path d="M28.0 338.5 V341.5" fill="none" stroke="#b8b8b8" stroke-width="2"/><line x1="25.0" y1="338.5" x2="28.0" y2="338.5" stroke="#777" stroke-width="1"/><text x="23.7" y="342.4" font-size="10.8" text-anchor="end" fill="#111">0</text><line x1="25.0" y1="315.2" x2="28.0" y2="315.2" stroke="#777" stroke-width="1"/><text x="23.7" y="319.1" font-size="10.8" text-anchor="end" fill="#111">1</text><line x1="25.0" y1="291.8" x2="28.0" y2="291.8" stroke="#777" stroke-width="1"/><text x="23.7" y="295.7" font-size="10.8" text-anchor="end" fill="#111">2</text><line x1="25.0" y1="268.5" x2="28.0" y2="268.5" stroke="#777" stroke-width="1"/><text x="23.7" y="272.4" font-size="10.8" text-anchor="end" fill="#111">3</text><line x1="25.0" y1="245.2" x2="28.0" y2="245.2" stroke="#777" stroke-width="1"/><text x="23.7" y="249.1" font-size="10.8" text-anchor="end" fill="#111">4</text><line x1="25.0" y1="221.8" x2="28.0" y2="221.8" stroke="#777" stroke-width="1"/><text x="23.7" y="225.7" font-size="10.8" text-anchor="end" fill="#111">5</text><line x1="25.0" y1="198.5" x2="28.0" y2="198.5" stroke="#777" stroke-width="1"/><text x="23.7" y="202.4" font-size="10.8" text-anchor="end" fill="#111">6</text><line x1="26.5" y1="326.8" x2="28.5" y2="326.8" stroke="#555" stroke-width="1"/><line x1="26.5" y1="303.5" x2="28.5" y2="303.5" stroke="#555" stroke-width="1"/><line x1="26.5" y1="280.2" x2="28.5" y2="280.2" stroke="#555" stroke-width="1"/><line x1="26.5" y1="256.8" x2="28.5" y2="256.8" stroke="#555" stroke-width="1"/><line x1="26.5" y1="233.5" x2="28.5" y2="233.5" stroke="#555" stroke-width="1"/><line x1="26.5" y1="210.2" x2="28.5" y2="210.2" stroke="#555" stroke-width="1"/><line x1="28.0" y1="338.5" x2="28.0" y2="341.0" stroke="#999" stroke-width="1"/><text x="28.0" y="351.4" font-size="10.8" text-anchor="middle" fill="#111">1.8</text><line x1="59.1" y1="338.5" x2="59.1" y2="341.0" stroke="#999" stroke-width="1"/><text x="59.1" y="351.4" font-size="10.8" text-anchor="middle" fill="#111">1.9</text><line x1="90.1" y1="338.5" x2="90.1" y2="341.0" stroke="#999" stroke-width="1"/><text x="90.1" y="351.4" font-size="10.8" text-anchor="middle" fill="#111">2.0</text><line x1="121.2" y1="338.5" x2="121.2" y2="341.0" stroke="#999" stroke-width="1"/><text x="121.2" y="351.4" font-size="10.8" text-anchor="middle" fill="#111">2.1</text><line x1="152.3" y1="338.5" x2="152.3" y2="341.0" stroke="#999" stroke-width="1"/><text x="152.3" y="351.4" font-size="10.8" text-anchor="middle" fill="#111">2.2</text><line x1="43.5" y1="338.5" x2="43.5" y2="340.0" stroke="#aaa" stroke-width="1"/><line x1="74.6" y1="338.5" x2="74.6" y2="340.0" stroke="#aaa" stroke-width="1"/><line x1="105.7" y1="338.5" x2="105.7" y2="340.0" stroke="#aaa" stroke-width="1"/><line x1="136.7" y1="338.5" x2="136.7" y2="340.0" stroke="#aaa" stroke-width="1"/><text x="30.1" y="211.8" font-size="10.9" fill="#111">Ref 60%</text><text x="164.4" y="211.6" font-size="11" text-anchor="end" fill="#111">5–10k <tspan font-style="italic">g</tspan></text><text x="97.6" y="369.0" font-size="11" text-anchor="middle" fill="#111">Energy (eV)</text><text x="13.8" y="268.5" font-size="10.9" text-anchor="middle" fill="#111" transform="rotate(-90 13.8 268.5)">Norm. Intensity (arb. unit)</text><polyline points="29.9,338.1 30.4,338.3 31.0,337.9 31.6,338.2 32.2,338.1 32.8,338.3 33.3,338.1 33.9,337.8 34.5,338.0 35.1,338.3 35.6,337.8 36.2,338.3 36.8,338.4 37.4,338.4 37.9,337.8 38.5,338.1 39.1,337.9 39.7,338.1 40.3,337.9 40.8,338.0 41.4,338.0 42.0,338.0 42.6,338.0 43.1,337.9 43.7,337.9 44.3,338.2 44.9,337.7 45.5,337.8 46.0,337.9 46.6,337.5 47.2,338.0 47.8,337.1 48.3,337.4 48.9,337.2 49.5,337.4 50.1,336.7 50.6,336.7 51.2,336.9 51.8,336.3 52.4,336.3 53.0,336.4 53.5,336.2 54.1,336.0 54.7,336.0 55.3,336.0 55.8,335.3 56.4,335.1 57.0,335.6 57.6,334.8 58.2,335.1 58.7,334.7 59.3,334.6 59.9,334.7 60.5,334.9 61.0,334.5 61.6,334.6 62.2,334.5 62.8,334.3 63.3,334.3 63.9,334.0 64.5,333.7 65.1,334.3 65.7,333.9 66.2,333.9 66.8,333.6 67.4,333.1 68.0,333.0 68.5,333.8 69.1,332.9 69.7,333.0 70.3,333.3 70.9,333.0 71.4,332.7 72.0,333.2 72.6,332.7 73.2,332.5 73.7,332.7 74.3,332.4 74.9,332.2 75.5,331.5 76.0,331.6 76.6,331.8 77.2,331.9 77.8,331.7 78.4,330.9 78.9,331.7 79.5,330.8 80.1,330.9 80.7,330.3 81.2,328.8 81.8,329.3 82.4,328.5 83.0,328.5 83.6,327.6 84.1,326.6 84.7,327.1 85.3,326.4 85.9,326.2 86.4,324.5 87.0,324.7 87.6,324.6 88.2,323.4 88.8,321.7 89.3,321.9 89.9,317.6 90.5,319.9 91.1,317.1 91.6,313.2 92.2,314.1 92.8,312.6 93.4,309.2 93.9,308.8 94.5,304.1 95.1,301.9 95.7,301.6 96.3,302.9 96.8,303.9 97.4,306.1 98.0,305.7 98.6,311.3 99.1,311.5 99.7,313.8 100.3,314.8 100.9,318.8 101.5,321.6 102.0,321.9 102.6,323.5 103.2,324.8 103.8,327.2 104.3,328.1 104.9,328.9 105.5,328.9 106.1,330.7 106.6,330.3 107.2,331.3 107.8,331.7 108.4,331.9 109.0,332.4 109.5,333.2 110.1,333.8 110.7,333.9 111.3,334.4 111.8,334.5 112.4,334.8 113.0,335.2 113.6,335.6 114.2,335.5 114.7,335.9 115.3,336.1 115.9,336.6 116.5,336.1 117.0,336.2 117.6,336.4 118.2,336.6 118.8,336.3 119.3,336.8 119.9,336.9 120.5,336.6 121.1,336.7 121.7,337.4 122.2,337.3 122.8,337.1 123.4,337.4 124.0,337.2 124.5,337.1 125.1,337.6 125.7,337.4 126.3,337.7 126.9,337.8 127.4,337.4 128.0,337.9 128.6,337.7 129.2,337.7 129.7,337.5 130.3,337.5 130.9,337.6 131.5,337.5 132.1,337.7 132.6,337.8 133.2,337.6 133.8,337.3 134.4,338.0 134.9,337.6 135.5,337.5 136.1,338.0 136.7,337.7 137.2,338.0 137.8,337.9 138.4,337.8 139.0,338.1 139.6,337.6 140.1,337.7 140.7,337.8 141.3,338.0 141.9,337.7 142.4,337.6 143.0,337.6 143.6,337.8 144.2,338.0 144.8,337.9 145.3,337.8 145.9,337.6 146.5,338.0 147.1,337.9 147.6,338.0 148.2,338.1 148.8,338.0 149.4,338.2 149.9,338.0 150.5,338.2 151.1,337.9 151.7,338.1 152.3,338.1 152.8,337.8 153.4,338.2 154.0,338.0 154.6,338.2 155.1,338.0 155.7,338.3 156.3,338.3 156.9,338.0 157.5,338.3 158.0,338.2 158.6,338.3 159.2,338.4 159.8,338.1 160.3,338.2 160.9,338.2 161.5,337.9 162.1,338.1 162.6,338.0 163.2,338.2 163.8,338.1 164.4,338.0 165.0,338.5 165.5,337.9 166.1,338.0 166.7,338.1 167.3,338.3 167.8,338.2 168.4,338.2" fill="none" stroke="#000" stroke-width="3.4" stroke-linecap="round" stroke-linejoin="round"/><polyline points="40.4,338.7 40.9,338.7 41.3,338.7 41.7,338.7 42.2,338.7 42.6,338.6 43.1,338.6 43.5,338.6 43.9,338.6 44.4,338.6 44.8,338.5 45.2,338.5 45.7,338.5 46.1,338.4 46.6,338.4 47.0,338.3 47.4,338.3 47.9,338.2 48.3,338.1 48.8,338.0 49.2,338.0 49.6,337.9 50.1,337.8 50.5,337.7 50.9,337.6 51.4,337.5 51.8,337.4 52.3,337.3 52.7,337.2 53.1,337.1 53.6,337.0 54.0,336.9 54.5,336.8 54.9,336.7 55.3,336.6 55.8,336.5 56.2,336.4 56.6,336.3 57.1,336.2 57.5,336.2 58.0,336.1 58.4,336.0 58.8,335.9 59.3,335.8 59.7,335.7 60.2,335.7 60.6,335.6 61.0,335.5 61.5,335.4 61.9,335.4 62.3,335.3 62.8,335.2 63.2,335.2 63.7,335.1 64.1,335.0 64.5,335.0 65.0,334.9 65.4,334.8 65.9,334.8 66.3,334.7 66.7,334.6 67.2,334.6 67.6,334.5 68.0,334.4 68.5,334.4 68.9,334.3 69.4,334.2 69.8,334.2 70.2,334.1 70.7,334.1 71.1,334.0 71.6,334.0 72.0,333.9 72.4,333.8 72.9,333.8 73.3,333.7 73.7,333.7 74.2,333.6 74.6,333.6 75.1,333.5 75.5,333.4 75.9,333.3 76.4,333.2 76.8,333.2 77.3,333.0 77.7,332.9 78.1,332.8 78.6,332.7 79.0,332.6 79.4,332.4 79.9,332.3 80.3,332.1 80.8,331.9 81.2,331.7 81.6,331.5 82.1,331.3 82.5,331.0 83.0,330.8 83.4,330.5 83.8,330.3 84.3,330.0 84.7,329.6 85.1,329.3 85.6,328.9 86.0,328.5 86.5,328.1 86.9,327.6 87.3,327.0 87.8,326.5 88.2,325.8 88.6,325.1 89.1,324.3 89.5,323.4 90.0,322.4 90.4,321.3 90.8,320.1 91.3,318.7 91.7,317.3 92.2,315.6 92.6,313.9 93.0,312.1 93.5,310.3 93.9,308.5 94.3,306.9 94.8,305.5 95.2,304.4 95.7,303.8 96.1,303.7 96.5,304.2 97.0,305.1 97.4,306.5 97.9,308.2 98.3,310.1 98.7,312.1 99.2,314.1 99.6,316.0 100.0,317.9 100.5,319.6 100.9,321.2 101.4,322.7 101.8,324.0 102.2,325.2 102.7,326.3 103.1,327.3 103.6,328.2 104.0,328.9 104.4,329.7 104.9,330.3 105.3,330.9 105.7,331.4 106.2,331.9 106.6,332.4 107.1,332.8 107.5,333.2 107.9,333.5 108.4,333.9 108.8,334.2 109.3,334.4 109.7,334.7 110.1,334.9 110.6,335.2 111.0,335.4 111.4,335.6 111.9,335.8 112.3,335.9 112.8,336.1 113.2,336.3 113.6,336.4 114.1,336.5 114.5,336.7 115.0,336.8 115.4,336.9 115.8,337.0 116.3,337.1 116.7,337.2 117.1,337.2 117.6,337.3 118.0,337.4 118.5,337.4 118.9,337.5 119.3,337.5" fill="none" stroke="#0000b4" stroke-width="2.0" stroke-linejoin="round"/><polyline points="80.8,339.0 81.0,339.0 81.1,339.0 81.3,339.0 81.4,338.9 81.6,338.9 81.7,338.9 81.9,338.9 82.0,338.9 82.1,338.8 82.3,338.8 82.4,338.8 82.6,338.8 82.7,338.7 82.9,338.7 83.0,338.6 83.2,338.6 83.3,338.5 83.5,338.5 83.6,338.4 83.8,338.4 83.9,338.3 84.1,338.2 84.2,338.1 84.4,338.1 84.5,338.0 84.7,337.9 84.8,337.8 85.0,337.6 85.1,337.5 85.3,337.4 85.4,337.2 85.6,337.1 85.7,336.9 85.9,336.8 86.0,336.6 86.2,336.4 86.3,336.2 86.5,336.0 86.6,335.8 86.8,335.5 86.9,335.3 87.0,335.0 87.2,334.7 87.3,334.5 87.5,334.2 87.6,333.8 87.8,333.5 87.9,333.2 88.1,332.8 88.2,332.4 88.4,332.0 88.5,331.6 88.7,331.2 88.8,330.8 89.0,330.4 89.1,329.9 89.3,329.4 89.4,328.9 89.6,328.4 89.7,327.9 89.9,327.4 90.0,326.9 90.2,326.3 90.3,325.8 90.5,325.2 90.6,324.6 90.8,324.1 90.9,323.5 91.1,322.9 91.2,322.3 91.4,321.7 91.5,321.1 91.6,320.5 91.8,319.9 91.9,319.3 92.1,318.7 92.2,318.2 92.4,317.6 92.5,317.0 92.7,316.4 92.8,315.9 93.0,315.4 93.1,314.8 93.3,314.3 93.4,313.8 93.6,313.4 93.7,312.9 93.9,312.5 94.0,312.1 94.2,311.7 94.3,311.3 94.5,311.0 94.6,310.7 94.8,310.4 94.9,310.1 95.1,309.9 95.2,309.7 95.4,309.6 95.5,309.4 95.7,309.3 95.8,309.3 96.0,309.2 96.1,309.2 96.3,309.3 96.4,309.3 96.5,309.4 96.7,309.6 96.8,309.7 97.0,309.9 97.1,310.1 97.3,310.4 97.4,310.6 97.6,310.9 97.7,311.3 97.9,311.6 98.0,312.0 98.2,312.4 98.3,312.9 98.5,313.3 98.6,313.8 98.8,314.3 98.9,314.8 99.1,315.3 99.2,315.8 99.4,316.4 99.5,316.9 99.7,317.5 99.8,318.1 100.0,318.7 100.1,319.3 100.3,319.8 100.4,320.4 100.6,321.0 100.7,321.6 100.9,322.2 101.0,322.8 101.1,323.4 101.3,324.0 101.4,324.6 101.6,325.1 101.7,325.7 101.9,326.3 102.0,326.8 102.2,327.3 102.3,327.9 102.5,328.4 102.6,328.9 102.8,329.4 102.9,329.8 103.1,330.3 103.2,330.7 103.4,331.2 103.5,331.6 103.7,332.0 103.8,332.4 104.0,332.8 104.1,333.1 104.3,333.5 104.4,333.8 104.6,334.1 104.7,334.4 104.9,334.7 105.0,335.0 105.2,335.3 105.3,335.5 105.5,335.7 105.6,336.0 105.7,336.2 105.9,336.4 106.0,336.6 106.2,336.8 106.3,336.9 106.5,337.1 106.6,337.2 106.8,337.4 106.9,337.5 107.1,337.6 107.2,337.7 107.4,337.8 107.5,337.9" fill="none" stroke="#ff1a1a" stroke-width="1.3" stroke-linejoin="round"/><polyline points="46.6,338.1 47.0,338.0 47.3,338.0 47.6,338.0 48.0,337.9 48.3,337.9 48.6,337.8 48.9,337.8 49.3,337.7 49.6,337.7 49.9,337.6 50.2,337.6 50.6,337.5 50.9,337.4 51.2,337.4 51.6,337.3 51.9,337.3 52.2,337.2 52.5,337.1 52.9,337.1 53.2,337.0 53.5,337.0 53.9,336.9 54.2,336.8 54.5,336.8 54.8,336.7 55.2,336.6 55.5,336.6 55.8,336.5 56.1,336.4 56.5,336.3 56.8,336.3 57.1,336.2 57.5,336.1 57.8,336.1 58.1,336.0 58.4,335.9 58.8,335.9 59.1,335.8 59.4,335.7 59.8,335.7 60.1,335.6 60.4,335.5 60.7,335.5 61.1,335.4 61.4,335.3 61.7,335.3 62.1,335.2 62.4,335.1 62.7,335.1 63.0,335.0 63.4,335.0 63.7,334.9 64.0,334.9 64.3,334.8 64.7,334.7 65.0,334.7 65.3,334.7 65.7,334.6 66.0,334.6 66.3,334.5 66.6,334.5 67.0,334.4 67.3,334.4 67.6,334.4 68.0,334.4 68.3,334.3 68.6,334.3 68.9,334.3 69.3,334.3 69.6,334.2 69.9,334.2 70.3,334.2 70.6,334.2 70.9,334.2 71.2,334.2 71.6,334.2 71.9,334.2 72.2,334.2 72.5,334.2 72.9,334.2 73.2,334.2 73.5,334.3 73.9,334.3 74.2,334.3 74.5,334.3 74.8,334.3 75.2,334.4 75.5,334.4 75.8,334.4 76.2,334.5 76.5,334.5 76.8,334.5 77.1,334.6 77.5,334.6 77.8,334.7 78.1,334.7 78.4,334.8 78.8,334.8 79.1,334.9 79.4,334.9 79.8,335.0 80.1,335.0 80.4,335.1 80.7,335.2 81.1,335.2 81.4,335.3 81.7,335.4 82.1,335.4 82.4,335.5 82.7,335.5 83.0,335.6 83.4,335.7 83.7,335.8 84.0,335.8 84.4,335.9 84.7,336.0 85.0,336.0 85.3,336.1 85.7,336.2 86.0,336.2 86.3,336.3 86.6,336.4 87.0,336.4 87.3,336.5 87.6,336.6 88.0,336.7 88.3,336.7 88.6,336.8 88.9,336.9 89.3,336.9 89.6,337.0 89.9,337.0 90.3,337.1 90.6,337.2 90.9,337.2 91.2,337.3 91.6,337.4 91.9,337.4 92.2,337.5 92.5,337.5 92.9,337.6 93.2,337.6 93.5,337.7 93.9,337.7 94.2,337.8 94.5,337.8 94.8,337.9 95.2,337.9 95.5,338.0 95.8,338.0 96.2,338.1 96.5,338.1 96.8,338.1 97.1,338.2 97.5,338.2 97.8,338.3 98.1,338.3 98.5,338.3 98.8,338.4 99.1,338.4 99.4,338.4 99.8,338.5 100.1,338.5 100.4,338.5 100.7,338.6 101.1,338.6 101.4,338.6 101.7,338.6 102.1,338.7 102.4,338.7 102.7,338.7 103.0,338.7 103.4,338.7 103.7,338.8 104.0,338.8 104.4,338.8 104.7,338.8 105.0,338.8 105.3,338.8 105.7,338.9" fill="none" stroke="#22dd22" stroke-width="1.2" stroke-linejoin="round"/></g>
<g><path d="M215.8 198.5 H355.6 V338.5" fill="none" stroke="#959595" stroke-width="1.4"/><path d="M215.8 198.5 V338.5 H355.6" fill="none" stroke="#a8a8a8" stroke-width="2"/><path d="M215.8 338.5 V341.5" fill="none" stroke="#b8b8b8" stroke-width="2"/><line x1="212.8" y1="338.5" x2="215.8" y2="338.5" stroke="#777" stroke-width="1"/><text x="211.5" y="342.4" font-size="10.8" text-anchor="end" fill="#111">0</text><line x1="212.8" y1="315.2" x2="215.8" y2="315.2" stroke="#777" stroke-width="1"/><text x="211.5" y="319.1" font-size="10.8" text-anchor="end" fill="#111">1</text><line x1="212.8" y1="291.8" x2="215.8" y2="291.8" stroke="#777" stroke-width="1"/><text x="211.5" y="295.7" font-size="10.8" text-anchor="end" fill="#111">2</text><line x1="212.8" y1="268.5" x2="215.8" y2="268.5" stroke="#777" stroke-width="1"/><text x="211.5" y="272.4" font-size="10.8" text-anchor="end" fill="#111">3</text><line x1="212.8" y1="245.2" x2="215.8" y2="245.2" stroke="#777" stroke-width="1"/><text x="211.5" y="249.1" font-size="10.8" text-anchor="end" fill="#111">4</text><line x1="212.8" y1="221.8" x2="215.8" y2="221.8" stroke="#777" stroke-width="1"/><text x="211.5" y="225.7" font-size="10.8" text-anchor="end" fill="#111">5</text><line x1="212.8" y1="198.5" x2="215.8" y2="198.5" stroke="#777" stroke-width="1"/><text x="211.5" y="202.4" font-size="10.8" text-anchor="end" fill="#111">6</text><line x1="214.3" y1="326.8" x2="216.3" y2="326.8" stroke="#555" stroke-width="1"/><line x1="214.3" y1="303.5" x2="216.3" y2="303.5" stroke="#555" stroke-width="1"/><line x1="214.3" y1="280.2" x2="216.3" y2="280.2" stroke="#555" stroke-width="1"/><line x1="214.3" y1="256.8" x2="216.3" y2="256.8" stroke="#555" stroke-width="1"/><line x1="214.3" y1="233.5" x2="216.3" y2="233.5" stroke="#555" stroke-width="1"/><line x1="214.3" y1="210.2" x2="216.3" y2="210.2" stroke="#555" stroke-width="1"/><line x1="215.8" y1="338.5" x2="215.8" y2="341.0" stroke="#999" stroke-width="1"/><text x="215.8" y="351.4" font-size="10.8" text-anchor="middle" fill="#111">1.8</text><line x1="246.9" y1="338.5" x2="246.9" y2="341.0" stroke="#999" stroke-width="1"/><text x="246.9" y="351.4" font-size="10.8" text-anchor="middle" fill="#111">1.9</text><line x1="277.9" y1="338.5" x2="277.9" y2="341.0" stroke="#999" stroke-width="1"/><text x="277.9" y="351.4" font-size="10.8" text-anchor="middle" fill="#111">2.0</text><line x1="309.0" y1="338.5" x2="309.0" y2="341.0" stroke="#999" stroke-width="1"/><text x="309.0" y="351.4" font-size="10.8" text-anchor="middle" fill="#111">2.1</text><line x1="340.1" y1="338.5" x2="340.1" y2="341.0" stroke="#999" stroke-width="1"/><text x="340.1" y="351.4" font-size="10.8" text-anchor="middle" fill="#111">2.2</text><line x1="231.3" y1="338.5" x2="231.3" y2="340.0" stroke="#aaa" stroke-width="1"/><line x1="262.4" y1="338.5" x2="262.4" y2="340.0" stroke="#aaa" stroke-width="1"/><line x1="293.5" y1="338.5" x2="293.5" y2="340.0" stroke="#aaa" stroke-width="1"/><line x1="324.5" y1="338.5" x2="324.5" y2="340.0" stroke="#aaa" stroke-width="1"/><text x="217.9" y="211.8" font-size="10.9" fill="#111">Ref 60%</text><text x="352.2" y="211.6" font-size="11" text-anchor="end" fill="#111">10–22k <tspan font-style="italic">g</tspan></text><text x="285.4" y="369.0" font-size="11" text-anchor="middle" fill="#111">Energy (eV)</text><text x="201.6" y="268.5" font-size="10.9" text-anchor="middle" fill="#111" transform="rotate(-90 201.6 268.5)">Norm. Intensity (arb. unit)</text><polyline points="217.7,338.2 218.2,338.0 218.8,337.8 219.4,338.1 220.0,338.2 220.6,338.0 221.1,338.2 221.7,338.1 222.3,338.2 222.9,338.0 223.4,338.0 224.0,337.9 224.6,337.9 225.2,338.2 225.7,337.8 226.3,338.1 226.9,338.3 227.5,337.8 228.1,338.1 228.6,337.6 229.2,338.0 229.8,337.7 230.4,337.7 230.9,338.2 231.5,338.1 232.1,337.6 232.7,337.7 233.3,337.4 233.8,337.7 234.4,337.4 235.0,337.2 235.6,337.0 236.1,336.8 236.7,336.7 237.3,336.9 237.9,336.4 238.4,336.3 239.0,336.1 239.6,336.1 240.2,335.7 240.8,335.4 241.3,335.0 241.9,334.5 242.5,334.2 243.1,334.3 243.6,333.8 244.2,334.0 244.8,333.5 245.4,333.2 246.0,333.1 246.5,332.8 247.1,333.2 247.7,333.1 248.3,332.2 248.8,332.6 249.4,332.7 250.0,332.2 250.6,331.9 251.1,332.0 251.7,332.0 252.3,332.2 252.9,332.1 253.5,331.0 254.0,331.3 254.6,331.5 255.2,331.7 255.8,331.3 256.3,331.2 256.9,331.1 257.5,331.2 258.1,330.8 258.7,330.6 259.2,331.3 259.8,331.0 260.4,331.0 261.0,330.7 261.5,330.7 262.1,330.1 262.7,329.9 263.3,330.1 263.8,329.7 264.4,329.5 265.0,329.6 265.6,329.1 266.2,328.5 266.7,328.4 267.3,327.7 267.9,327.3 268.5,327.5 269.0,326.8 269.6,325.7 270.2,324.9 270.8,325.2 271.4,324.4 271.9,324.2 272.5,323.1 273.1,322.9 273.7,321.8 274.2,321.9 274.8,320.1 275.4,321.5 276.0,319.3 276.6,318.2 277.1,316.4 277.7,315.1 278.3,314.2 278.9,309.8 279.4,309.7 280.0,309.1 280.6,300.1 281.2,300.9 281.7,291.8 282.3,294.1 282.9,283.9 283.5,279.8 284.1,280.1 284.6,280.8 285.2,284.9 285.8,286.4 286.4,289.2 286.9,290.2 287.5,298.3 288.1,301.0 288.7,301.0 289.3,310.1 289.8,310.5 290.4,314.8 291.0,319.5 291.6,321.8 292.1,322.3 292.7,322.8 293.3,324.5 293.9,324.4 294.4,327.1 295.0,328.4 295.6,329.3 296.2,329.9 296.8,329.9 297.3,331.0 297.9,331.6 298.5,332.4 299.1,332.8 299.6,332.9 300.2,333.3 300.8,333.7 301.4,333.8 302.0,334.4 302.5,334.6 303.1,334.5 303.7,335.0 304.3,335.6 304.8,334.9 305.4,335.8 306.0,335.9 306.6,335.7 307.1,335.8 307.7,336.3 308.3,335.8 308.9,336.2 309.5,336.3 310.0,336.4 310.6,336.7 311.2,336.7 311.8,336.8 312.3,336.8 312.9,336.7 313.5,336.8 314.1,336.8 314.7,337.0 315.2,337.2 315.8,336.9 316.4,337.1 317.0,337.3 317.5,337.1 318.1,337.4 318.7,337.0 319.3,337.0 319.9,336.9 320.4,337.4 321.0,337.4 321.6,337.6 322.2,337.6 322.7,337.4 323.3,337.6 323.9,337.6 324.5,337.6 325.0,337.3 325.6,337.4 326.2,337.7 326.8,337.6 327.4,337.3 327.9,337.4 328.5,337.6 329.1,337.5 329.7,337.7 330.2,337.6 330.8,337.6 331.4,337.6 332.0,338.0 332.6,338.1 333.1,337.7 333.7,337.8 334.3,338.0 334.9,337.7 335.4,338.0 336.0,338.0 336.6,338.0 337.2,337.6 337.7,338.2 338.3,337.9 338.9,337.8 339.5,337.8 340.1,337.9 340.6,338.0 341.2,338.2 341.8,338.1 342.4,337.9 342.9,338.0 343.5,338.3 344.1,338.0 344.7,338.2 345.3,338.0 345.8,337.8 346.4,337.7 347.0,338.1 347.6,338.2 348.1,338.4 348.7,338.0 349.3,338.1 349.9,338.2 350.4,338.4 351.0,338.2 351.6,338.0 352.2,338.0 352.8,338.1 353.3,338.2 353.9,338.4 354.5,337.9 355.1,338.2 355.6,338.2 356.2,338.1" fill="none" stroke="#000" stroke-width="3.4" stroke-linecap="round" stroke-linejoin="round"/><polyline points="228.2,338.6 228.7,338.6 229.2,338.6 229.6,338.6 230.1,338.5 230.6,338.5 231.0,338.5 231.5,338.5 232.0,338.5 232.5,338.4 232.9,338.4 233.4,338.3 233.9,338.3 234.3,338.2 234.8,338.2 235.3,338.1 235.7,338.0 236.2,337.9 236.7,337.8 237.1,337.7 237.6,337.6 238.1,337.5 238.6,337.3 239.0,337.2 239.5,337.1 240.0,337.0 240.4,336.8 240.9,336.7 241.4,336.6 241.8,336.5 242.3,336.3 242.8,336.2 243.2,336.1 243.7,336.0 244.2,335.8 244.7,335.7 245.1,335.6 245.6,335.5 246.1,335.4 246.5,335.3 247.0,335.1 247.5,335.0 247.9,334.9 248.4,334.8 248.9,334.7 249.4,334.6 249.8,334.6 250.3,334.5 250.8,334.4 251.2,334.3 251.7,334.2 252.2,334.1 252.6,334.0 253.1,333.9 253.6,333.8 254.0,333.7 254.5,333.6 255.0,333.5 255.5,333.4 255.9,333.3 256.4,333.2 256.9,333.1 257.3,333.0 257.8,332.9 258.3,332.7 258.7,332.6 259.2,332.5 259.7,332.4 260.1,332.3 260.6,332.2 261.1,332.0 261.6,331.9 262.0,331.8 262.5,331.7 263.0,331.5 263.4,331.4 263.9,331.2 264.4,331.1 264.8,330.9 265.3,330.7 265.8,330.5 266.3,330.3 266.7,330.1 267.2,329.9 267.7,329.6 268.1,329.3 268.6,329.0 269.1,328.7 269.5,328.4 270.0,328.0 270.5,327.7 270.9,327.3 271.4,326.9 271.9,326.5 272.4,326.0 272.8,325.6 273.3,325.1 273.8,324.5 274.2,324.0 274.7,323.4 275.2,322.7 275.6,322.0 276.1,321.2 276.6,320.2 277.0,319.2 277.5,318.1 278.0,316.7 278.5,315.2 278.9,313.5 279.4,311.4 279.9,309.1 280.3,306.4 280.8,303.4 281.3,300.1 281.7,296.5 282.2,292.8 282.7,289.1 283.2,285.9 283.6,283.3 284.1,281.8 284.6,281.4 285.0,282.4 285.5,284.5 286.0,287.4 286.4,291.0 286.9,294.9 287.4,298.8 287.8,302.6 288.3,306.1 288.8,309.3 289.3,312.1 289.7,314.7 290.2,317.0 290.7,319.0 291.1,320.8 291.6,322.4 292.1,323.8 292.5,325.0 293.0,326.1 293.5,327.1 293.9,328.0 294.4,328.8 294.9,329.6 295.4,330.2 295.8,330.8 296.3,331.4 296.8,331.9 297.2,332.3 297.7,332.7 298.2,333.1 298.6,333.5 299.1,333.8 299.6,334.1 300.1,334.4 300.5,334.7 301.0,334.9 301.5,335.2 301.9,335.4 302.4,335.6 302.9,335.7 303.3,335.9 303.8,336.1 304.3,336.2 304.7,336.3 305.2,336.4 305.7,336.5 306.2,336.7 306.6,336.7 307.1,336.8 307.6,336.9 308.0,337.0 308.5,337.1 309.0,337.1 309.4,337.2 309.9,337.3 310.4,337.3 310.9,337.4 311.3,337.4 311.8,337.5 312.3,337.5 312.7,337.6" fill="none" stroke="#0000b4" stroke-width="2.0" stroke-linejoin="round"/><polyline points="262.4,339.1 262.6,339.1 262.9,339.1 263.1,339.1 263.3,339.1 263.5,339.1 263.8,339.1 264.0,339.1 264.2,339.1 264.5,339.1 264.7,339.1 264.9,339.1 265.2,339.1 265.4,339.1 265.6,339.1 265.8,339.1 266.1,339.1 266.3,339.1 266.5,339.1 266.8,339.1 267.0,339.1 267.2,339.1 267.5,339.0 267.7,339.0 267.9,339.0 268.1,339.0 268.4,339.0 268.6,339.0 268.8,338.9 269.1,338.9 269.3,338.9 269.5,338.8 269.7,338.8 270.0,338.7 270.2,338.7 270.4,338.6 270.7,338.5 270.9,338.4 271.1,338.3 271.4,338.2 271.6,338.0 271.8,337.9 272.0,337.7 272.3,337.5 272.5,337.3 272.7,337.0 273.0,336.7 273.2,336.4 273.4,336.1 273.6,335.7 273.9,335.2 274.1,334.8 274.3,334.3 274.6,333.7 274.8,333.1 275.0,332.5 275.3,331.8 275.5,331.0 275.7,330.2 275.9,329.3 276.2,328.4 276.4,327.4 276.6,326.3 276.9,325.2 277.1,324.0 277.3,322.8 277.6,321.5 277.8,320.2 278.0,318.8 278.2,317.3 278.5,315.8 278.7,314.3 278.9,312.7 279.2,311.1 279.4,309.5 279.6,307.9 279.8,306.2 280.1,304.6 280.3,302.9 280.5,301.3 280.8,299.7 281.0,298.2 281.2,296.6 281.5,295.2 281.7,293.8 281.9,292.5 282.1,291.2 282.4,290.1 282.6,289.0 282.8,288.0 283.1,287.2 283.3,286.5 283.5,285.9 283.7,285.4 284.0,285.0 284.2,284.8 284.4,284.7 284.7,284.8 284.9,285.0 285.1,285.3 285.4,285.8 285.6,286.3 285.8,287.0 286.0,287.9 286.3,288.8 286.5,289.9 286.7,291.0 287.0,292.2 287.2,293.5 287.4,294.9 287.7,296.4 287.9,297.9 288.1,299.4 288.3,301.0 288.6,302.6 288.8,304.3 289.0,305.9 289.3,307.6 289.5,309.2 289.7,310.8 289.9,312.4 290.2,314.0 290.4,315.6 290.6,317.1 290.9,318.5 291.1,319.9 291.3,321.3 291.6,322.6 291.8,323.8 292.0,325.0 292.2,326.1 292.5,327.2 292.7,328.2 292.9,329.1 293.2,330.0 293.4,330.9 293.6,331.6 293.8,332.3 294.1,333.0 294.3,333.6 294.5,334.2 294.8,334.7 295.0,335.2 295.2,335.6 295.5,336.0 295.7,336.3 295.9,336.7 296.1,336.9 296.4,337.2 296.6,337.4 296.8,337.6 297.1,337.8 297.3,338.0 297.5,338.1 297.8,338.3 298.0,338.4 298.2,338.5 298.4,338.6 298.7,338.6 298.9,338.7 299.1,338.8 299.4,338.8 299.6,338.9 299.8,338.9 300.0,338.9 300.3,339.0 300.5,339.0 300.7,339.0 301.0,339.0 301.2,339.0 301.4,339.0 301.7,339.1 301.9,339.1 302.1,339.1 302.3,339.1 302.6,339.1 302.8,339.1 303.0,339.1 303.3,339.1 303.5,339.1 303.7,339.1" fill="none" stroke="#ff1a1a" stroke-width="1.3" stroke-linejoin="round"/><polyline points="234.4,338.7 234.8,338.7 235.1,338.7 235.4,338.6 235.7,338.6 236.0,338.6 236.3,338.5 236.6,338.5 236.9,338.5 237.2,338.4 237.5,338.4 237.9,338.4 238.2,338.3 238.5,338.3 238.8,338.3 239.1,338.2 239.4,338.2 239.7,338.1 240.0,338.1 240.3,338.0 240.7,338.0 241.0,337.9 241.3,337.9 241.6,337.8 241.9,337.8 242.2,337.7 242.5,337.7 242.8,337.6 243.1,337.5 243.4,337.5 243.8,337.4 244.1,337.3 244.4,337.3 244.7,337.2 245.0,337.1 245.3,337.1 245.6,337.0 245.9,336.9 246.2,336.8 246.6,336.8 246.9,336.7 247.2,336.6 247.5,336.5 247.8,336.5 248.1,336.4 248.4,336.3 248.7,336.2 249.0,336.1 249.4,336.0 249.7,336.0 250.0,335.9 250.3,335.8 250.6,335.7 250.9,335.6 251.2,335.5 251.5,335.4 251.8,335.4 252.1,335.3 252.5,335.2 252.8,335.1 253.1,335.0 253.4,335.0 253.7,334.9 254.0,334.8 254.3,334.7 254.6,334.6 254.9,334.6 255.3,334.5 255.6,334.4 255.9,334.4 256.2,334.3 256.5,334.2 256.8,334.2 257.1,334.1 257.4,334.0 257.7,334.0 258.1,333.9 258.4,333.9 258.7,333.8 259.0,333.8 259.3,333.7 259.6,333.7 259.9,333.7 260.2,333.6 260.5,333.6 260.8,333.6 261.2,333.6 261.5,333.5 261.8,333.5 262.1,333.5 262.4,333.5 262.7,333.5 263.0,333.5 263.3,333.5 263.6,333.5 264.0,333.5 264.3,333.5 264.6,333.5 264.9,333.6 265.2,333.6 265.5,333.6 265.8,333.6 266.1,333.7 266.4,333.7 266.7,333.7 267.1,333.8 267.4,333.8 267.7,333.9 268.0,333.9 268.3,334.0 268.6,334.0 268.9,334.1 269.2,334.2 269.5,334.2 269.9,334.3 270.2,334.4 270.5,334.4 270.8,334.5 271.1,334.6 271.4,334.6 271.7,334.7 272.0,334.8 272.3,334.9 272.7,335.0 273.0,335.0 273.3,335.1 273.6,335.2 273.9,335.3 274.2,335.4 274.5,335.4 274.8,335.5 275.1,335.6 275.4,335.7 275.8,335.8 276.1,335.9 276.4,336.0 276.7,336.0 277.0,336.1 277.3,336.2 277.6,336.3 277.9,336.4 278.2,336.5 278.6,336.5 278.9,336.6 279.2,336.7 279.5,336.8 279.8,336.8 280.1,336.9 280.4,337.0 280.7,337.1 281.0,337.1 281.4,337.2 281.7,337.3 282.0,337.3 282.3,337.4 282.6,337.5 282.9,337.5 283.2,337.6 283.5,337.7 283.8,337.7 284.1,337.8 284.5,337.8 284.8,337.9 285.1,337.9 285.4,338.0 285.7,338.0 286.0,338.1 286.3,338.1 286.6,338.2 286.9,338.2 287.3,338.3 287.6,338.3 287.9,338.3 288.2,338.4 288.5,338.4 288.8,338.4 289.1,338.5 289.4,338.5 289.7,338.5 290.0,338.6 290.4,338.6" fill="none" stroke="#22dd22" stroke-width="1.2" stroke-linejoin="round"/></g>
<g><path d="M403.5 198.5 H543.3 V338.5" fill="none" stroke="#959595" stroke-width="1.4"/><path d="M403.5 198.5 V338.5 H543.3" fill="none" stroke="#a8a8a8" stroke-width="2"/><path d="M403.5 338.5 V341.5" fill="none" stroke="#b8b8b8" stroke-width="2"/><line x1="400.5" y1="338.5" x2="403.5" y2="338.5" stroke="#777" stroke-width="1"/><text x="399.2" y="342.4" font-size="10.8" text-anchor="end" fill="#111">0</text><line x1="400.5" y1="315.2" x2="403.5" y2="315.2" stroke="#777" stroke-width="1"/><text x="399.2" y="319.1" font-size="10.8" text-anchor="end" fill="#111">1</text><line x1="400.5" y1="291.8" x2="403.5" y2="291.8" stroke="#777" stroke-width="1"/><text x="399.2" y="295.7" font-size="10.8" text-anchor="end" fill="#111">2</text><line x1="400.5" y1="268.5" x2="403.5" y2="268.5" stroke="#777" stroke-width="1"/><text x="399.2" y="272.4" font-size="10.8" text-anchor="end" fill="#111">3</text><line x1="400.5" y1="245.2" x2="403.5" y2="245.2" stroke="#777" stroke-width="1"/><text x="399.2" y="249.1" font-size="10.8" text-anchor="end" fill="#111">4</text><line x1="400.5" y1="221.8" x2="403.5" y2="221.8" stroke="#777" stroke-width="1"/><text x="399.2" y="225.7" font-size="10.8" text-anchor="end" fill="#111">5</text><line x1="400.5" y1="198.5" x2="403.5" y2="198.5" stroke="#777" stroke-width="1"/><text x="399.2" y="202.4" font-size="10.8" text-anchor="end" fill="#111">6</text><line x1="402.0" y1="326.8" x2="404.0" y2="326.8" stroke="#555" stroke-width="1"/><line x1="402.0" y1="303.5" x2="404.0" y2="303.5" stroke="#555" stroke-width="1"/><line x1="402.0" y1="280.2" x2="404.0" y2="280.2" stroke="#555" stroke-width="1"/><line x1="402.0" y1="256.8" x2="404.0" y2="256.8" stroke="#555" stroke-width="1"/><line x1="402.0" y1="233.5" x2="404.0" y2="233.5" stroke="#555" stroke-width="1"/><line x1="402.0" y1="210.2" x2="404.0" y2="210.2" stroke="#555" stroke-width="1"/><line x1="403.5" y1="338.5" x2="403.5" y2="341.0" stroke="#999" stroke-width="1"/><text x="403.5" y="351.4" font-size="10.8" text-anchor="middle" fill="#111">1.8</text><line x1="434.6" y1="338.5" x2="434.6" y2="341.0" stroke="#999" stroke-width="1"/><text x="434.6" y="351.4" font-size="10.8" text-anchor="middle" fill="#111">1.9</text><line x1="465.6" y1="338.5" x2="465.6" y2="341.0" stroke="#999" stroke-width="1"/><text x="465.6" y="351.4" font-size="10.8" text-anchor="middle" fill="#111">2.0</text><line x1="496.7" y1="338.5" x2="496.7" y2="341.0" stroke="#999" stroke-width="1"/><text x="496.7" y="351.4" font-size="10.8" text-anchor="middle" fill="#111">2.1</text><line x1="527.8" y1="338.5" x2="527.8" y2="341.0" stroke="#999" stroke-width="1"/><text x="527.8" y="351.4" font-size="10.8" text-anchor="middle" fill="#111">2.2</text><line x1="419.0" y1="338.5" x2="419.0" y2="340.0" stroke="#aaa" stroke-width="1"/><line x1="450.1" y1="338.5" x2="450.1" y2="340.0" stroke="#aaa" stroke-width="1"/><line x1="481.2" y1="338.5" x2="481.2" y2="340.0" stroke="#aaa" stroke-width="1"/><line x1="512.2" y1="338.5" x2="512.2" y2="340.0" stroke="#aaa" stroke-width="1"/><text x="405.6" y="211.8" font-size="10.9" fill="#111">Ref 60%</text><text x="539.9" y="211.6" font-size="11" text-anchor="end" fill="#111">22–74k <tspan font-style="italic">g</tspan></text><text x="473.1" y="369.0" font-size="11" text-anchor="middle" fill="#111">Energy (eV)</text><text x="389.3" y="268.5" font-size="10.9" text-anchor="middle" fill="#111" transform="rotate(-90 389.3 268.5)">Norm. Intensity (arb. unit)</text><polyline points="405.4,338.2 405.9,338.2 406.5,338.5 407.1,338.2 407.7,338.3 408.3,338.3 408.8,337.9 409.4,338.1 410.0,338.0 410.6,338.3 411.1,338.0 411.7,338.3 412.3,338.5 412.9,338.1 413.4,338.1 414.0,338.1 414.6,337.9 415.2,338.1 415.8,337.9 416.3,338.0 416.9,338.0 417.5,337.9 418.1,337.6 418.6,337.7 419.2,337.5 419.8,337.6 420.4,337.5 421.0,337.5 421.5,337.8 422.1,337.4 422.7,337.1 423.3,336.9 423.8,337.0 424.4,336.4 425.0,336.9 425.6,336.0 426.1,336.5 426.7,335.9 427.3,335.9 427.9,335.5 428.5,335.2 429.0,335.0 429.6,335.2 430.2,334.7 430.8,334.0 431.3,333.9 431.9,332.8 432.5,332.7 433.1,332.2 433.7,331.9 434.2,330.6 434.8,330.2 435.4,329.6 436.0,329.4 436.5,329.0 437.1,327.9 437.7,328.3 438.3,327.6 438.8,328.4 439.4,327.8 440.0,327.3 440.6,327.8 441.2,327.5 441.7,327.3 442.3,327.7 442.9,328.3 443.5,327.6 444.0,327.6 444.6,328.0 445.2,327.1 445.8,327.8 446.4,328.0 446.9,327.2 447.5,328.2 448.1,328.7 448.7,328.7 449.2,328.5 449.8,328.9 450.4,329.5 451.0,329.5 451.5,329.8 452.1,329.0 452.7,329.2 453.3,329.3 453.9,329.0 454.4,327.9 455.0,327.5 455.6,327.8 456.2,327.1 456.7,326.9 457.3,326.7 457.9,325.7 458.5,324.4 459.1,323.2 459.6,323.6 460.2,322.3 460.8,322.1 461.4,321.2 461.9,319.6 462.5,318.3 463.1,317.5 463.7,317.5 464.3,315.2 464.8,313.8 465.4,311.2 466.0,309.0 466.6,308.8 467.1,308.0 467.7,301.6 468.3,301.6 468.9,296.5 469.4,293.1 470.0,292.1 470.6,278.5 471.2,280.4 471.8,274.5 472.3,273.8 472.9,272.6 473.5,274.3 474.1,275.9 474.6,277.6 475.2,282.5 475.8,291.3 476.4,292.6 477.0,298.2 477.5,301.0 478.1,301.6 478.7,309.4 479.3,312.4 479.8,314.6 480.4,316.3 481.0,319.9 481.6,321.9 482.1,322.7 482.7,323.1 483.3,324.7 483.9,325.9 484.5,326.1 485.0,327.2 485.6,329.0 486.2,329.1 486.8,328.6 487.3,330.6 487.9,331.1 488.5,331.1 489.1,331.5 489.7,331.9 490.2,332.8 490.8,333.0 491.4,334.0 492.0,333.9 492.5,333.8 493.1,334.9 493.7,334.9 494.3,334.3 494.8,335.3 495.4,335.4 496.0,335.4 496.6,335.6 497.2,335.0 497.7,335.8 498.3,335.9 498.9,336.0 499.5,336.3 500.0,336.2 500.6,336.5 501.2,336.4 501.8,336.4 502.4,336.9 502.9,336.8 503.5,336.9 504.1,336.8 504.7,337.1 505.2,336.6 505.8,336.7 506.4,337.0 507.0,337.2 507.6,337.1 508.1,337.0 508.7,337.3 509.3,337.1 509.9,337.5 510.4,337.4 511.0,337.8 511.6,337.4 512.2,337.8 512.7,337.3 513.3,337.2 513.9,337.7 514.5,337.6 515.1,337.2 515.6,337.7 516.2,337.7 516.8,337.5 517.4,337.6 517.9,337.4 518.5,337.7 519.1,337.7 519.7,337.8 520.3,337.7 520.8,337.9 521.4,337.7 522.0,337.7 522.6,337.8 523.1,338.0 523.7,337.8 524.3,337.9 524.9,337.9 525.4,338.0 526.0,338.1 526.6,338.0 527.2,338.4 527.8,337.8 528.3,337.9 528.9,337.9 529.5,337.9 530.1,338.1 530.6,337.9 531.2,338.0 531.8,337.9 532.4,337.9 533.0,338.0 533.5,338.0 534.1,337.9 534.7,338.4 535.3,338.0 535.8,338.1 536.4,338.0 537.0,338.1 537.6,338.2 538.1,337.7 538.7,337.9 539.3,337.9 539.9,337.8 540.5,338.0 541.0,337.8 541.6,338.2 542.2,337.9 542.8,337.9 543.3,338.0 543.9,338.3" fill="none" stroke="#000" stroke-width="3.4" stroke-linecap="round" stroke-linejoin="round"/><polyline points="422.1,338.5 422.6,338.5 423.1,338.5 423.6,338.5 424.1,338.5 424.6,338.5 425.1,338.5 425.6,338.4 426.1,338.4 426.6,338.4 427.1,338.4 427.6,338.4 428.0,338.4 428.5,338.3 429.0,338.3 429.5,338.3 430.0,338.3 430.5,338.3 431.0,338.3 431.5,338.2 432.0,338.2 432.5,338.2 433.0,338.2 433.5,338.2 433.9,338.1 434.4,338.1 434.9,338.1 435.4,338.1 435.9,338.0 436.4,338.0 436.9,338.0 437.4,337.9 437.9,337.9 438.4,337.9 438.9,337.8 439.4,337.8 439.8,337.8 440.3,337.7 440.8,337.7 441.3,337.6 441.8,337.6 442.3,337.5 442.8,337.5 443.3,337.4 443.8,337.4 444.3,337.3 444.8,337.3 445.3,337.2 445.8,337.1 446.2,337.1 446.7,337.0 447.2,336.9 447.7,336.8 448.2,336.7 448.7,336.7 449.2,336.6 449.7,336.4 450.2,336.3 450.7,336.2 451.2,336.1 451.7,336.0 452.1,335.8 452.6,335.7 453.1,335.5 453.6,335.3 454.1,335.1 454.6,334.9 455.1,334.7 455.6,334.5 456.1,334.2 456.6,334.0 457.1,333.7 457.6,333.4 458.0,333.0 458.5,332.6 459.0,332.2 459.5,331.8 460.0,331.3 460.5,330.7 461.0,330.1 461.5,329.5 462.0,328.7 462.5,327.9 463.0,327.0 463.5,326.0 464.0,324.9 464.4,323.6 464.9,322.2 465.4,320.6 465.9,318.8 466.4,316.8 466.9,314.6 467.4,312.0 467.9,309.2 468.4,306.1 468.9,302.7 469.4,299.1 469.9,295.3 470.3,291.4 470.8,287.6 471.3,284.2 471.8,281.3 472.3,279.4 472.8,278.5 473.3,278.8 473.8,280.2 474.3,282.6 474.8,285.7 475.3,289.4 475.8,293.2 476.2,297.1 476.7,300.9 477.2,304.4 477.7,307.6 478.2,310.6 478.7,313.3 479.2,315.7 479.7,317.8 480.2,319.7 480.7,321.4 481.2,322.9 481.7,324.2 482.2,325.4 482.6,326.5 483.1,327.5 483.6,328.3 484.1,329.1 484.6,329.8 485.1,330.4 485.6,331.0 486.1,331.5 486.6,332.0 487.1,332.4 487.6,332.8 488.1,333.2 488.5,333.5 489.0,333.8 489.5,334.1 490.0,334.4 490.5,334.6 491.0,334.8 491.5,335.0 492.0,335.2 492.5,335.4 493.0,335.6 493.5,335.7 494.0,335.9 494.4,336.0 494.9,336.2 495.4,336.3 495.9,336.4 496.4,336.5 496.9,336.6 497.4,336.7 497.9,336.8 498.4,336.9 498.9,337.0 499.4,337.0 499.9,337.1 500.4,337.2 500.8,337.2 501.3,337.3 501.8,337.4 502.3,337.4 502.8,337.5 503.3,337.5 503.8,337.6 504.3,337.6 504.8,337.7 505.3,337.7 505.8,337.7 506.3,337.8 506.7,337.8 507.2,337.9 507.7,337.9 508.2,337.9 508.7,338.0 509.2,338.0 509.7,338.0 510.2,338.0 510.7,338.1" fill="none" stroke="#ff1a1a" stroke-width="1.3" stroke-linejoin="round"/><polyline points="406.6,338.7 407.3,338.7 407.9,338.7 408.6,338.7 409.3,338.7 409.9,338.7 410.6,338.7 411.3,338.7 412.0,338.7 412.6,338.7 413.3,338.7 414.0,338.6 414.6,338.6 415.3,338.6 416.0,338.5 416.6,338.5 417.3,338.4 418.0,338.3 418.6,338.2 419.3,338.2 420.0,338.1 420.6,338.0 421.3,337.9 422.0,337.8 422.6,337.6 423.3,337.5 424.0,337.3 424.6,337.2 425.3,337.0 426.0,336.8 426.6,336.6 427.3,336.4 428.0,336.1 428.6,335.9 429.3,335.7 430.0,335.4 430.7,335.1 431.3,334.7 432.0,334.3 432.7,333.9 433.3,333.5 434.0,333.0 434.7,332.5 435.3,332.1 436.0,331.6 436.7,331.2 437.3,330.7 438.0,330.3 438.7,330.0 439.3,329.7 440.0,329.5 440.7,329.4 441.3,329.4 442.0,329.4 442.7,329.5 443.3,329.6 444.0,329.8 444.7,329.9 445.3,330.1 446.0,330.3 446.7,330.5 447.4,330.7 448.0,330.9 448.7,331.1 449.4,331.2 450.0,331.3 450.7,331.4 451.4,331.4 452.0,331.4 452.7,331.3 453.4,331.2 454.0,331.0 454.7,330.7 455.4,330.4 456.0,330.1 456.7,329.7 457.4,329.2 458.0,328.6 458.7,327.9 459.4,327.1 460.0,326.1 460.7,325.1 461.4,324.0 462.0,322.8 462.7,321.6 463.4,320.3 464.0,318.8 464.7,317.2 465.4,315.3 466.1,313.2 466.7,310.6 467.4,307.6 468.1,304.0 468.7,299.9 469.4,295.3 470.1,290.3 470.7,285.2 471.4,280.5 472.1,277.1 472.7,275.4 473.4,275.8 474.1,278.3 474.7,282.5 475.4,287.5 476.1,292.9 476.7,298.2 477.4,303.1 478.1,307.5 478.7,311.3 479.4,314.6 480.1,317.4 480.7,319.8 481.4,321.9 482.1,323.7 482.8,325.3 483.4,326.6 484.1,327.8 484.8,328.8 485.4,329.7 486.1,330.5 486.8,331.2 487.4,331.8 488.1,332.4 488.8,332.9 489.4,333.3 490.1,333.8 490.8,334.1 491.4,334.5 492.1,334.8 492.8,335.1 493.4,335.4 494.1,335.6 494.8,335.8 495.4,336.0 496.1,336.2 496.8,336.4 497.4,336.6 498.1,336.7 498.8,336.8 499.4,336.9 500.1,337.0 500.8,337.1 501.5,337.2 502.1,337.3 502.8,337.4 503.5,337.5 504.1,337.5 504.8,337.6 505.5,337.6 506.1,337.7 506.8,337.8 507.5,337.8 508.1,337.9 508.8,337.9 509.5,337.9 510.1,338.0 510.8,338.0 511.5,338.1 512.1,338.1 512.8,338.1 513.5,338.2 514.1,338.2 514.8,338.2 515.5,338.2 516.1,338.3 516.8,338.3 517.5,338.3 518.2,338.3 518.8,338.4 519.5,338.4 520.2,338.4 520.8,338.4 521.5,338.4 522.2,338.5 522.8,338.5 523.5,338.5 524.2,338.5 524.8,338.5 525.5,338.5 526.2,338.5 526.8,338.6" fill="none" stroke="#0000b4" stroke-width="2.0" stroke-linejoin="round"/><polyline points="403.5,339.1 403.9,339.1 404.3,339.1 404.7,339.1 405.1,339.1 405.5,339.1 405.9,339.1 406.3,339.1 406.7,339.1 407.1,339.1 407.5,339.1 407.9,339.1 408.3,339.1 408.7,339.1 409.1,339.1 409.5,339.1 409.9,339.1 410.3,339.1 410.7,339.1 411.1,339.1 411.5,339.1 411.9,339.1 412.3,339.1 412.7,339.1 413.2,339.1 413.6,339.1 414.0,339.1 414.4,339.1 414.8,339.1 415.2,339.1 415.6,339.1 416.0,339.1 416.4,339.1 416.8,339.0 417.2,339.0 417.6,339.0 418.0,339.0 418.4,339.0 418.8,339.0 419.2,339.0 419.6,338.9 420.0,338.9 420.4,338.9 420.8,338.9 421.2,338.8 421.6,338.8 422.0,338.7 422.4,338.7 422.8,338.6 423.2,338.6 423.6,338.5 424.0,338.4 424.4,338.3 424.8,338.2 425.2,338.1 425.6,338.0 426.0,337.9 426.4,337.8 426.8,337.6 427.2,337.5 427.6,337.3 428.0,337.1 428.4,336.9 428.8,336.8 429.2,336.5 429.6,336.3 430.0,336.1 430.4,335.9 430.8,335.7 431.2,335.4 431.6,335.2 432.1,334.9 432.5,334.6 432.9,334.4 433.3,334.1 433.7,333.9 434.1,333.6 434.5,333.4 434.9,333.1 435.3,332.9 435.7,332.7 436.1,332.4 436.5,332.2 436.9,332.0 437.3,331.9 437.7,331.7 438.1,331.6 438.5,331.4 438.9,331.3 439.3,331.3 439.7,331.2 440.1,331.2 440.5,331.2 440.9,331.2 441.3,331.2 441.7,331.3 442.1,331.4 442.5,331.5 442.9,331.6 443.3,331.7 443.7,331.9 444.1,332.1 444.5,332.3 444.9,332.5 445.3,332.7 445.7,332.9 446.1,333.2 446.5,333.4 446.9,333.7 447.3,333.9 447.7,334.2 448.1,334.4 448.5,334.7 448.9,334.9 449.3,335.2 449.7,335.4 450.1,335.7 450.6,335.9 451.0,336.1 451.4,336.4 451.8,336.6 452.2,336.8 452.6,337.0 453.0,337.2 453.4,337.3 453.8,337.5 454.2,337.6 454.6,337.8 455.0,337.9 455.4,338.0 455.8,338.1 456.2,338.2 456.6,338.3 457.0,338.4 457.4,338.5 457.8,338.6 458.2,338.6 458.6,338.7 459.0,338.7 459.4,338.8 459.8,338.8 460.2,338.9 460.6,338.9 461.0,338.9 461.4,338.9 461.8,339.0 462.2,339.0 462.6,339.0 463.0,339.0 463.4,339.0 463.8,339.0 464.2,339.1 464.6,339.1 465.0,339.1 465.4,339.1 465.8,339.1 466.2,339.1 466.6,339.1 467.0,339.1 467.4,339.1 467.8,339.1 468.2,339.1 468.6,339.1 469.0,339.1 469.5,339.1 469.9,339.1 470.3,339.1 470.7,339.1 471.1,339.1 471.5,339.1 471.9,339.1 472.3,339.1 472.7,339.1 473.1,339.1 473.5,339.1 473.9,339.1 474.3,339.1 474.7,339.1 475.1,339.1 475.5,339.1 475.9,339.1" fill="none" stroke="#22dd22" stroke-width="1.2" stroke-linejoin="round"/></g>
</svg></body></html>
